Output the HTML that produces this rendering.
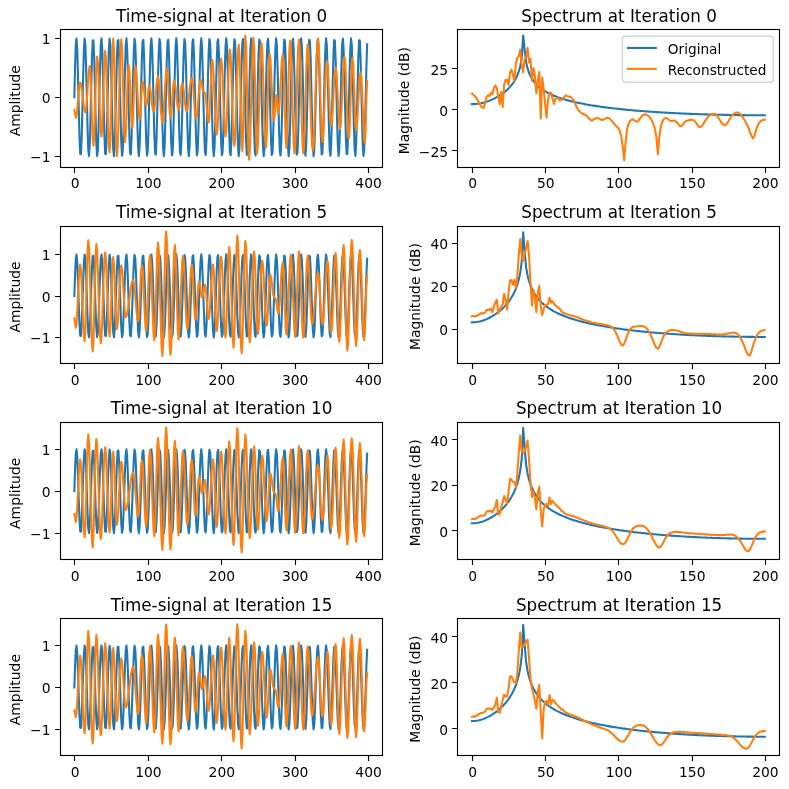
<!DOCTYPE html>
<html lang="en"><head><meta charset="utf-8"><title>Griffin-Lim reconstruction</title>
<style>html,body{margin:0;padding:0;background:#fff}svg{display:block}</style></head>
<body>
<svg width="789" height="789" viewBox="0 0 789 789">
<rect width="789" height="789" fill="#fff"/>
<clipPath id="c00"><rect x="59.7" y="29.3" width="322.1" height="137.25"/></clipPath>
<g clip-path="url(#c00)">
<polyline points="74.34,97.2 75.07,66.16 75.81,44.41 76.54,38.44 77.28,50.05 78.01,75.76 78.74,107.88 79.48,136.81 80.21,153.89 80.95,154.01 81.68,137.15 82.41,108.33 83.15,76.19 83.88,50.33 84.62,38.49 85.35,44.21 86.08,65.77 86.82,96.74 87.55,127.85 88.28,149.78 89.02,156 89.75,144.62 90.49,119.07 91.22,86.97 91.95,57.93 92.69,40.64 93.42,40.26 94.16,56.92 94.89,85.62 95.62,117.78 96.36,143.79 97.09,155.87 97.83,150.39 98.56,129.01 99.29,98.12 100.03,66.95 100.76,44.83 101.49,38.37 102.23,49.51 102.96,74.91 103.7,106.98 104.43,136.12 105.16,153.63 105.9,154.25 106.63,137.82 107.37,109.23 108.1,77.05 108.83,50.89 109.57,38.59 110.3,43.81 111.03,65 111.77,95.82 112.5,127.06 113.24,149.36 113.97,156.06 114.7,145.16 115.44,119.92 116.17,87.87 116.91,58.62 117.64,40.91 118.37,40.03 119.11,56.25 119.84,84.72 120.58,116.92 121.31,143.22 122.04,155.76 122.78,150.78 123.51,129.78 124.24,99.03 124.98,67.74 125.71,45.25 126.45,38.31 127.18,48.97 127.91,74.06 128.65,106.07 129.38,135.43 130.12,153.35 130.85,154.48 131.58,138.48 132.32,110.13 133.05,77.91 133.79,51.47 134.52,38.7 135.25,43.43 135.99,64.24 136.72,94.91 137.45,126.26 138.19,148.93 138.92,156.12 139.66,145.69 140.39,120.76 141.12,88.78 141.86,59.32 142.59,41.19 143.33,39.81 144.06,55.6 144.79,83.82 145.53,116.05 146.26,142.64 147,155.64 147.73,151.16 148.46,130.54 149.2,99.95 149.93,68.54 150.66,45.7 151.4,38.26 152.13,48.45 152.87,73.22 153.6,105.16 154.33,134.73 155.07,153.06 155.8,154.69 156.54,139.13 157.27,111.02 158,78.78 158.74,52.05 159.47,38.82 160.2,43.05 160.94,63.48 161.67,93.99 162.41,125.46 163.14,148.48 163.87,156.16 164.61,146.21 165.34,121.6 166.08,89.69 166.81,60.03 167.54,41.49 168.28,39.6 169.01,54.95 169.75,82.93 170.48,115.18 171.21,142.05 171.95,155.51 172.68,151.53 173.41,131.3 174.15,100.87 174.88,69.34 175.62,46.15 176.35,38.22 177.08,47.94 177.82,72.39 178.55,104.25 179.29,134.01 180.02,152.76 180.75,154.89 181.49,139.77 182.22,111.91 182.96,79.66 183.69,52.65 184.42,38.96 185.16,42.7 185.89,62.73 186.62,93.07 187.36,124.65 188.09,148.02 188.83,156.19 189.56,146.71 190.29,122.43 191.03,90.6 191.76,60.75 192.5,41.79 193.23,39.41 193.96,54.31 194.7,82.04 195.43,114.3 196.17,141.45 196.9,155.36 197.63,151.88 198.37,132.04 199.1,101.78 199.83,70.15 200.57,46.62 201.3,38.21 202.04,47.44 202.77,71.56 203.5,103.34 204.24,133.29 204.97,152.45 205.71,155.08 206.44,140.4 207.17,112.8 207.91,80.53 208.64,53.25 209.37,39.12 210.11,42.35 210.84,61.99 211.58,92.16 212.31,123.84 213.04,147.55 213.78,156.2 214.51,147.21 215.25,123.26 215.98,91.51 216.71,61.47 217.45,42.12 218.18,39.23 218.92,53.69 219.65,81.16 220.38,113.42 221.12,140.84 221.85,155.2 222.58,152.22 223.32,132.78 224.05,102.7 224.79,70.97 225.52,47.09 226.25,38.2 226.99,46.95 227.72,70.73 228.46,102.43 229.19,132.56 229.92,152.12 230.66,155.25 231.39,141.02 232.13,113.68 232.86,81.42 233.59,53.87 234.33,39.29 235.06,42.02 235.79,61.26 236.53,91.25 237.26,123.01 238,147.06 238.73,156.2 239.46,147.69 240.2,124.08 240.93,92.43 241.67,62.21 242.4,42.45 243.13,39.07 243.87,53.08 244.6,80.28 245.33,112.54 246.07,140.22 246.8,155.03 247.54,152.54 248.27,133.5 249,103.61 249.74,71.8 250.47,47.58 251.21,38.21 251.94,46.48 252.67,69.92 253.41,101.51 254.14,131.82 254.88,151.78 255.61,155.41 256.34,141.63 257.08,114.56 257.81,82.3 258.54,54.5 259.28,39.47 260.01,41.7 260.75,60.54 261.48,90.33 262.21,122.19 262.95,146.57 263.68,156.18 264.42,148.16 265.15,124.89 265.88,93.34 266.62,62.95 267.35,42.8 268.09,38.92 268.82,52.47 269.55,79.4 270.29,111.65 271.02,139.58 271.75,154.84 272.49,152.85 273.22,134.22 273.96,104.52 274.69,72.63 275.42,48.09 276.16,38.23 276.89,46.02 277.63,69.11 278.36,100.6 279.09,131.08 279.83,151.42 280.56,155.55 281.3,142.23 282.03,115.44 282.76,83.19 283.5,55.14 284.23,39.66 284.96,41.4 285.7,59.82 286.43,89.42 287.17,121.35 287.9,146.06 288.63,156.15 289.37,148.61 290.1,125.7 290.84,94.26 291.57,63.7 292.3,43.16 293.04,38.78 293.77,51.88 294.5,78.53 295.24,110.76 295.97,138.94 296.71,154.63 297.44,153.15 298.17,134.93 298.91,105.43 299.64,73.47 300.38,48.6 301.11,38.27 301.84,45.57 302.58,68.3 303.31,99.68 304.05,130.32 304.78,151.05 305.51,155.68 306.25,142.81 306.98,116.31 307.71,84.09 308.45,55.79 309.18,39.87 309.92,41.11 310.65,59.12 311.38,88.52 312.12,120.51 312.85,145.54 313.59,156.11 314.32,149.06 315.05,126.5 315.79,95.18 316.52,64.46 317.26,43.54 317.99,38.66 318.72,51.3 319.46,77.66 320.19,109.87 320.92,138.29 321.66,154.42 322.39,153.43 323.13,135.63 323.86,106.34 324.59,74.31 325.33,49.13 326.06,38.32 326.8,45.13 327.53,67.51 328.26,98.77 329,129.56 329.73,150.67 330.47,155.79 331.2,143.39 331.93,117.17 332.67,84.98 333.4,56.45 334.13,40.1 334.87,40.83 335.6,58.42 336.34,87.61 337.07,119.67 337.8,145.01 338.54,156.05 339.27,149.49 340.01,127.29 340.74,96.09 341.47,65.23 342.21,43.92 342.94,38.56 343.67,50.73 344.41,76.8 345.14,108.97 345.88,137.62 346.61,154.19 347.34,153.71 348.08,136.33 348.81,107.24 349.55,75.16 350.28,49.66 351.01,38.39 351.75,44.7 352.48,66.72 353.22,97.85 353.95,128.79 354.68,150.28 355.42,155.89 356.15,143.96 356.88,118.03 357.62,85.88 358.35,57.11 359.09,40.34 359.82,40.56 360.55,57.73 361.29,86.7 362.02,118.82 362.76,144.46 363.49,155.97 364.22,149.91 364.96,128.07 365.69,97.01 366.43,66 367.16,44.32" fill="none" stroke="#1f77b4" stroke-width="2.083" stroke-linejoin="round" stroke-linecap="square"/>
<polyline points="74.34,110 75.07,113.93 75.81,117.85 76.54,115.48 77.28,109 78.01,100.15 78.74,91.3 79.48,84.82 80.21,82.45 80.95,83.93 81.68,88.07 82.41,94.06 83.15,100.7 83.88,106.68 84.62,110.83 85.35,112.3 86.08,109.21 86.82,100.75 87.55,89.21 88.28,77.66 89.02,69.2 89.75,66.11 90.49,73.72 91.22,93.65 91.95,118.28 92.69,138.2 93.42,145.82 94.16,137.29 94.89,114.95 95.62,87.35 96.36,65.02 97.09,56.49 97.83,61.85 98.56,76.49 99.29,96.49 100.03,116.49 100.76,131.13 101.49,136.49 102.23,128.31 102.96,106.9 103.7,80.42 104.43,59.01 105.16,50.83 105.9,57.61 106.63,76.14 107.37,101.45 108.1,126.76 108.83,145.29 109.57,152.07 110.3,141.25 111.03,112.93 111.77,77.93 112.5,49.61 113.24,38.79 113.97,49.99 114.7,79.31 115.44,115.56 116.17,144.88 116.91,156.08 117.64,148.26 118.37,126.91 119.11,97.73 119.84,68.56 120.58,47.2 121.31,39.38 122.04,49.18 122.78,74.85 123.51,106.57 124.24,132.24 124.98,142.04 125.71,134.66 126.45,115.34 127.18,91.45 127.91,72.13 128.65,64.75 129.38,70.78 130.12,86.56 130.85,106.07 131.58,121.85 132.32,127.88 133.05,118.81 133.79,96.91 134.52,75 135.25,65.93 135.99,69.53 136.72,79.35 137.45,92.78 138.19,106.2 138.92,116.02 139.66,119.62 140.39,114.04 141.12,100.56 141.86,87.09 142.59,81.51 143.33,83.82 144.06,89.88 144.79,97.38 145.53,103.44 146.26,105.76 147,102.77 147.73,95.58 148.46,88.38 149.2,85.4 149.93,87.14 150.66,91.89 151.4,98.38 152.13,104.87 152.87,109.62 153.6,111.36 154.33,109.03 155.07,102.66 155.8,93.96 156.54,85.25 157.27,78.88 158,76.55 158.74,79.63 159.47,88.06 160.2,99.56 160.94,111.06 161.67,119.49 162.41,122.57 163.14,118.95 163.87,109.06 164.61,95.55 165.34,82.04 166.08,72.15 166.81,68.53 167.54,73.24 168.28,85.57 169.01,100.81 169.75,113.14 170.48,117.85 171.21,114.3 171.95,105.01 172.68,93.52 173.41,84.23 174.15,80.68 174.88,82.62 175.62,87.91 176.35,95.14 177.08,102.36 177.82,107.65 178.55,109.59 179.29,107.09 180.02,100.54 180.75,92.44 181.49,85.9 182.22,83.39 182.96,85.27 183.69,90.39 184.42,97.38 185.16,104.37 185.89,109.49 186.62,111.36 187.36,109.69 188.09,105.03 188.83,98.29 189.56,90.8 190.29,84.06 191.03,79.4 191.76,77.73 192.5,80.48 193.23,88 193.96,98.26 194.7,108.53 195.43,116.04 196.17,118.79 196.9,116.17 197.63,109.01 198.37,99.24 199.1,89.46 199.83,82.3 200.57,79.68 201.3,81.47 202.04,85.78 202.77,90.1 203.5,91.89 204.24,92.33 204.97,92.78 205.71,95.62 206.44,103.07 207.17,112.28 207.91,119.72 208.64,122.57 209.37,116.6 210.11,100.96 210.84,81.64 211.58,66 212.31,60.03 213.04,65.03 213.78,78.69 214.51,97.35 215.25,116.01 215.98,129.67 216.71,134.67 217.45,129.59 218.18,115.71 218.92,96.76 219.65,77.8 220.38,63.93 221.12,58.85 221.85,64.05 222.58,78.26 223.32,97.67 224.05,117.08 224.79,131.29 225.52,136.49 226.25,130.66 226.99,114.72 227.72,92.95 228.46,71.18 229.19,55.24 229.92,49.41 230.66,55.87 231.39,73.51 232.13,97.61 232.86,121.71 233.59,139.36 234.33,145.82 235.06,139.05 235.79,120.56 236.53,95.31 237.26,70.06 238,51.57 238.73,44.81 239.46,54.99 240.2,81.64 240.93,114.59 241.67,141.24 242.4,151.42 243.13,134.44 243.87,93.45 244.6,52.46 245.33,35.49 246.07,47.35 246.8,78.41 247.54,116.81 248.27,147.87 249,159.74 249.74,151.57 250.47,129.24 251.21,98.73 251.94,68.23 252.67,45.9 253.41,37.73 254.14,48.76 254.88,77.64 255.61,113.34 256.34,142.22 257.08,153.25 257.81,145.89 258.54,125.77 259.28,98.29 260.01,70.81 260.75,50.7 261.48,43.33 262.21,50.32 262.95,69.43 263.68,95.52 264.42,121.61 265.15,140.71 265.88,147.7 266.62,138.72 267.35,115.19 268.09,86.11 268.82,62.59 269.55,53.6 270.29,58.09 271.02,70.37 271.75,87.14 272.49,103.91 273.22,116.19 273.96,120.68 274.69,114.3 275.42,101.52 276.16,95.14 276.89,99.78 277.63,109.07 278.36,113.72 279.09,109.77 279.83,98.97 280.56,84.22 281.3,69.47 282.03,58.67 282.76,54.72 283.5,63.6 284.23,86.85 284.96,115.58 285.7,138.82 286.43,147.7 287.17,137.47 287.9,110.69 288.63,77.58 289.37,50.79 290.1,40.56 290.84,48.11 291.57,68.73 292.3,96.91 293.04,125.08 293.77,145.7 294.5,153.25 295.24,145.64 295.97,124.84 296.71,96.43 297.44,68.02 298.17,47.23 298.91,39.62 299.64,47.22 300.38,67.98 301.11,96.34 301.84,124.71 302.58,145.47 303.31,153.07 304.05,145.79 304.78,125.87 305.51,98.68 306.25,71.48 306.98,51.56 307.71,44.28 308.45,49.54 309.18,64.27 309.92,85.56 310.65,109.19 311.38,130.48 312.12,145.22 312.85,150.48 313.59,144.97 314.32,129.53 315.05,107.22 315.79,82.46 316.52,60.15 317.26,44.71 317.99,39.2 318.72,46.09 319.46,64.91 320.19,90.62 320.92,116.33 321.66,135.15 322.39,142.04 323.13,136.61 323.86,121.79 324.59,101.54 325.33,81.28 326.06,66.46 326.8,61.03 327.53,65.34 328.26,77.1 329,93.16 329.73,109.22 330.47,120.98 331.2,125.28 331.93,121.43 332.67,110.89 333.4,96.49 334.13,82.1 334.87,71.56 335.6,67.7 336.34,71.81 337.07,83.04 337.8,98.38 338.54,113.72 339.27,124.95 340.01,129.06 340.74,124.2 341.47,110.92 342.21,92.78 342.94,74.63 343.67,61.35 344.41,56.49 345.14,61.98 345.88,76.99 346.61,97.49 347.34,118 348.08,133.01 348.81,138.5 349.55,130.8 350.28,110.66 351.01,85.75 351.75,65.6 352.48,57.91 353.22,64.79 353.95,82.82 354.68,105.09 355.42,123.12 356.15,130 356.88,126.13 357.62,115.55 358.35,101.09 359.09,86.64 359.82,76.06 360.55,72.18 361.29,76.98 362.02,90.09 362.76,108 363.49,125.9 364.22,139.01 364.96,143.81 365.69,128.03 366.43,96.46 367.16,80.68" fill="none" stroke="#ff7f0e" stroke-width="2.083" stroke-linejoin="round" stroke-linecap="square"/>
</g>
<path d="M74.5 167.5v5.4M148.5 167.5v5.4M221.5 167.5v5.4M295.5 167.5v5.4M368.5 167.5v5.4M60.5 156.5h-5.4M60.5 97.5h-5.4M60.5 38.5h-5.4" stroke="#000" stroke-width="1.111" fill="none"/>
<rect x="60.5" y="29.5" width="322" height="138" fill="none" stroke="#000" stroke-width="1.111" stroke-linejoin="miter"/>
<clipPath id="c01"><rect x="457.3" y="29.3" width="322.1" height="137.25"/></clipPath>
<g clip-path="url(#c01)">
<polyline points="471.94,104.14 473.41,104.11 474.87,104.04 476.33,103.91 477.8,103.73 479.26,103.51 480.73,103.23 482.19,102.91 483.65,102.54 485.12,102.13 486.58,101.67 488.05,101.16 489.51,100.61 490.97,100.01 492.44,99.37 493.9,98.68 495.37,97.95 496.83,97.16 498.29,96.32 499.76,95.42 501.22,94.46 502.69,93.43 504.15,92.33 505.62,91.14 507.08,89.85 508.54,88.44 510.01,86.9 511.47,85.18 512.94,83.26 514.4,81.06 515.86,78.49 517.33,75.39 518.79,71.49 520.26,66.19 521.72,57.8 523.18,35.44 524.65,49.87 526.11,62.01 527.58,68.4 529.04,72.75 530.5,76.04 531.97,78.67 533.43,80.87 534.9,82.75 536.36,84.4 537.83,85.85 539.29,87.16 540.75,88.34 542.22,89.42 543.68,90.41 545.15,91.32 546.61,92.17 548.07,92.97 549.54,93.71 551,94.41 552.47,95.07 553.93,95.7 555.39,96.29 556.86,96.85 558.32,97.39 559.79,97.9 561.25,98.38 562.71,98.85 564.18,99.3 565.64,99.73 567.11,100.14 568.57,100.54 570.03,100.93 571.5,101.3 572.96,101.65 574.43,102 575.89,102.33 577.36,102.66 578.82,102.97 580.28,103.27 581.75,103.57 583.21,103.85 584.68,104.13 586.14,104.4 587.6,104.66 589.07,104.92 590.53,105.17 592,105.41 593.46,105.65 594.92,105.88 596.39,106.1 597.85,106.32 599.32,106.53 600.78,106.74 602.25,106.95 603.71,107.15 605.17,107.34 606.64,107.53 608.1,107.72 609.57,107.9 611.03,108.08 612.49,108.25 613.96,108.42 615.42,108.59 616.89,108.75 618.35,108.91 619.81,109.07 621.28,109.22 622.74,109.37 624.21,109.52 625.67,109.66 627.13,109.8 628.6,109.94 630.06,110.07 631.53,110.21 632.99,110.34 634.46,110.46 635.92,110.59 637.38,110.71 638.85,110.83 640.31,110.95 641.78,111.07 643.24,111.18 644.7,111.29 646.17,111.4 647.63,111.51 649.1,111.61 650.56,111.72 652.02,111.82 653.49,111.92 654.95,112.01 656.42,112.11 657.88,112.2 659.34,112.29 660.81,112.38 662.27,112.47 663.74,112.56 665.2,112.64 666.66,112.73 668.13,112.81 669.59,112.89 671.06,112.96 672.52,113.04 673.99,113.12 675.45,113.19 676.91,113.26 678.38,113.33 679.84,113.4 681.31,113.47 682.77,113.53 684.23,113.6 685.7,113.66 687.16,113.72 688.63,113.78 690.09,113.84 691.55,113.9 693.02,113.96 694.48,114.01 695.95,114.06 697.41,114.12 698.88,114.17 700.34,114.22 701.8,114.27 703.27,114.31 704.73,114.36 706.2,114.4 707.66,114.45 709.12,114.49 710.59,114.53 712.05,114.57 713.52,114.61 714.98,114.65 716.44,114.68 717.91,114.72 719.37,114.75 720.84,114.79 722.3,114.82 723.76,114.85 725.23,114.88 726.69,114.91 728.16,114.93 729.62,114.96 731.09,114.98 732.55,115.01 734.01,115.03 735.48,115.05 736.94,115.07 738.41,115.09 739.87,115.11 741.33,115.13 742.8,115.15 744.26,115.16 745.73,115.18 747.19,115.19 748.65,115.2 750.12,115.21 751.58,115.22 753.05,115.23 754.51,115.24 755.97,115.25 757.44,115.25 758.9,115.26 760.37,115.26 761.83,115.26 763.3,115.26 764.76,115.26" fill="none" stroke="#1f77b4" stroke-width="2.083" stroke-linejoin="round" stroke-linecap="square"/>
<polyline points="471.94,93.62 473.41,94.77 474.87,96.24 476.33,98.05 477.8,100.51 479.26,103.13 480.73,105.76 482.19,107.56 483.65,107.95 485.12,102.64 486.58,97.06 488.05,95.1 489.51,96.08 490.97,92.8 492.44,94.44 493.9,88.04 495.37,85.42 496.83,88.04 498.29,96.57 499.76,104.28 501.22,91.98 502.69,107.23 504.15,84.44 505.62,79.84 507.08,79.84 508.54,84.93 510.01,72.3 511.47,69.68 512.94,75.25 514.4,80.83 515.86,63.12 517.33,57.87 518.79,56.06 520.26,49.67 521.72,65.08 523.18,72.3 524.65,58.85 526.11,57.54 527.58,47.7 529.04,62.46 530.5,58.85 531.97,80.66 533.43,68.04 534.9,76.4 536.36,93.46 537.83,80.17 539.29,71.97 540.75,118.55 542.22,77.55 543.68,89.19 545.15,104.44 546.61,117.73 548.07,99.36 549.54,92.8 551,92.8 552.47,98.38 553.93,103.95 555.39,98.87 556.86,98.38 558.32,98.05 559.79,100.51 561.25,100.34 562.71,98.87 564.18,96.74 565.64,95.42 567.11,96.08 568.57,96.41 570.03,96.74 571.5,97.56 572.96,99.36 574.43,102.15 575.89,105.43 577.36,108.45 578.82,110.51 580.28,111.99 581.75,113.3 583.21,113.96 584.68,114.78 586.14,115.27 587.6,117.07 589.07,118.55 590.53,119.86 592,120.68 593.46,119.53 594.92,118.71 596.39,118.22 597.85,118.06 599.32,118.63 600.78,119.53 602.25,119.86 603.71,119.53 605.17,118.63 606.64,117.89 608.1,117.89 609.57,118.38 611.03,119.94 612.49,121.66 613.96,123.39 615.42,125.27 616.89,126.75 618.35,128.22 619.81,130.85 621.28,136.42 622.74,146.51 624.21,160.2 625.67,141.51 627.13,129.21 628.6,123.71 630.06,121.01 631.53,119.7 632.99,119.37 634.46,120.35 635.92,121.5 637.38,121.66 638.85,120.19 640.31,118.06 641.78,116.09 643.24,114.94 644.7,114.37 646.17,114.61 647.63,115.27 649.1,116.58 650.56,118.38 652.02,121.01 653.49,124.45 654.95,129.21 656.42,137.41 657.88,154.14 659.34,136.42 660.81,126.75 662.27,121.66 663.74,119.2 665.2,118.06 666.66,118.06 668.13,119.2 669.59,120.35 671.06,121.17 672.52,120.84 673.99,120.52 675.45,121.17 676.91,122.4 678.38,124.12 679.84,126.09 681.31,126.26 682.77,124.78 684.23,122.65 685.7,121.34 687.16,120.68 688.63,120.19 690.09,119.86 691.55,119.7 693.02,119.94 694.48,121.01 695.95,122.65 697.41,125.03 698.88,126.75 700.34,127.24 701.8,126.26 703.27,123.96 704.73,121.66 706.2,119.37 707.66,117.32 709.12,115.76 710.59,114.78 712.05,114.12 713.52,113.87 714.98,114.12 716.44,115.1 717.91,116.74 719.37,119.2 720.84,121.66 722.3,123.71 723.76,125.03 725.23,125.27 726.69,123.96 728.16,121.66 729.62,119.2 731.09,116.58 732.55,114.94 734.01,113.56 735.48,112.81 736.94,112.48 738.41,112.81 739.87,113.87 741.33,115.27 742.8,117.32 744.26,119.7 745.73,122.16 747.19,125.03 748.65,128.22 750.12,132.32 751.58,135.93 753.05,138.39 754.51,135.44 755.97,130.36 757.44,126.26 758.9,123.14 760.37,121.34 761.83,120.35 763.3,119.86 764.76,119.7" fill="none" stroke="#ff7f0e" stroke-width="2.083" stroke-linejoin="round" stroke-linecap="square"/>
</g>
<path d="M472.5 167.5v5.4M545.5 167.5v5.4M618.5 167.5v5.4M692.5 167.5v5.4M765.5 167.5v5.4M457.5 150.5h-5.4M457.5 109.5h-5.4M457.5 68.5h-5.4" stroke="#000" stroke-width="1.111" fill="none"/>
<rect x="457.5" y="29.5" width="322" height="138" fill="none" stroke="#000" stroke-width="1.111" stroke-linejoin="miter"/>
<clipPath id="c10"><rect x="59.7" y="225.6" width="322.1" height="137.25"/></clipPath>
<g clip-path="url(#c10)">
<polyline points="74.34,295.9 75.07,274.07 75.81,258.77 76.54,254.57 77.28,262.74 78.01,280.82 78.74,303.41 79.48,323.76 80.21,335.77 80.95,335.86 81.68,324 82.41,303.73 83.15,281.12 83.88,262.93 84.62,254.6 85.35,258.62 86.08,273.8 86.82,295.58 87.55,317.46 88.28,332.89 89.02,337.26 89.75,329.26 90.49,311.28 91.22,288.7 91.95,268.28 92.69,256.12 93.42,255.85 94.16,267.57 94.89,287.75 95.62,310.38 96.36,328.67 97.09,337.16 97.83,333.32 98.56,318.28 99.29,296.55 100.03,274.62 100.76,259.06 101.49,254.52 102.23,262.35 102.96,280.22 103.7,302.78 104.43,323.28 105.16,335.59 105.9,336.03 106.63,324.47 107.37,304.36 108.1,281.73 108.83,263.33 109.57,254.67 110.3,258.35 111.03,273.25 111.77,294.93 112.5,316.9 113.24,332.59 113.97,337.3 114.7,329.64 115.44,311.88 116.17,289.34 116.91,268.76 117.64,256.31 118.37,255.69 119.11,267.1 119.84,287.12 120.58,309.77 121.31,328.27 122.04,337.09 122.78,333.59 123.51,318.82 124.24,297.19 124.98,275.18 125.71,259.36 126.45,254.47 127.18,261.98 127.91,279.63 128.65,302.14 129.38,322.79 130.12,335.4 130.85,336.19 131.58,324.93 132.32,304.99 133.05,282.33 133.79,263.73 134.52,254.75 135.25,258.08 135.99,272.71 136.72,294.29 137.45,316.34 138.19,332.28 138.92,337.34 139.66,330.01 140.39,312.47 141.12,289.98 141.86,269.26 142.59,256.5 143.33,255.53 144.06,266.64 144.79,286.49 145.53,309.16 146.26,327.86 147,337.01 147.73,333.86 148.46,319.35 149.2,297.84 149.93,275.74 150.66,259.67 151.4,254.44 152.13,261.61 152.87,279.03 153.6,301.5 154.33,322.3 155.07,335.19 155.8,336.34 156.54,325.39 157.27,305.62 158,282.95 158.74,264.14 159.47,254.84 160.2,257.81 160.94,272.18 161.67,293.64 162.41,315.78 163.14,331.97 163.87,337.37 164.61,330.37 165.34,313.06 166.08,290.62 166.81,269.75 167.54,256.71 168.28,255.39 169.01,266.18 169.75,285.86 170.48,308.55 171.21,327.45 171.95,336.91 172.68,334.11 173.41,319.88 174.15,298.48 174.88,276.31 175.62,259.99 176.35,254.42 177.08,261.25 177.82,278.45 178.55,300.86 179.29,321.79 180.02,334.98 180.75,336.48 181.49,325.84 182.22,306.25 182.96,283.56 183.69,264.56 184.42,254.94 185.16,257.56 185.89,271.65 186.62,293 187.36,315.21 188.09,331.65 188.83,337.39 189.56,330.73 190.29,313.65 191.03,291.26 191.76,270.26 192.5,256.93 193.23,255.25 193.96,265.73 194.7,285.24 195.43,307.93 196.17,327.03 196.9,336.81 197.63,334.36 198.37,320.41 199.1,299.12 199.83,276.88 200.57,260.32 201.3,254.4 202.04,260.9 202.77,277.86 203.5,300.22 204.24,321.29 204.97,334.76 205.71,336.61 206.44,326.29 207.17,306.87 207.91,284.18 208.64,264.99 209.37,255.05 210.11,257.32 210.84,271.13 211.58,292.35 212.31,314.64 213.04,331.31 213.78,337.4 214.51,331.07 215.25,314.23 215.98,291.9 216.71,270.77 217.45,257.15 218.18,255.13 218.92,265.3 219.65,284.62 220.38,307.31 221.12,326.59 221.85,336.7 222.58,334.6 223.32,320.92 224.05,299.77 224.79,277.45 225.52,260.66 226.25,254.4 226.99,260.56 227.72,277.28 228.46,299.58 229.19,320.77 229.92,334.53 230.66,336.73 231.39,326.72 232.13,307.49 232.86,284.8 233.59,265.42 234.33,255.16 235.06,257.09 235.79,270.62 236.53,291.71 237.26,314.06 238,330.97 238.73,337.4 239.46,331.41 240.2,314.8 240.93,292.54 241.67,271.29 242.4,257.39 243.13,255.01 243.87,264.86 244.6,284 245.33,306.69 246.07,326.16 246.8,336.57 247.54,334.83 248.27,321.44 249,300.41 249.74,278.03 250.47,261 251.21,254.41 251.94,260.22 252.67,276.71 253.41,298.94 254.14,320.25 254.88,334.29 255.61,336.84 256.34,327.15 257.08,308.11 257.81,285.42 258.54,265.87 259.28,255.29 260.01,256.86 260.75,270.11 261.48,291.07 262.21,313.48 262.95,330.62 263.68,337.39 264.42,331.74 265.15,315.38 265.88,293.19 266.62,271.81 267.35,257.64 268.09,254.91 268.82,264.44 269.55,283.38 270.29,306.07 271.02,325.71 271.75,336.44 272.49,335.04 273.22,321.94 273.96,301.05 274.69,278.62 275.42,261.35 276.16,254.42 276.89,259.9 277.63,276.14 278.36,298.29 279.09,319.73 279.83,334.04 280.56,336.94 281.3,327.57 282.03,308.73 282.76,286.05 283.5,266.31 284.23,255.43 284.96,256.65 285.7,269.61 286.43,290.43 287.17,312.89 287.9,330.27 288.63,337.36 289.37,332.06 290.1,315.94 290.84,293.83 291.57,272.34 292.3,257.89 293.04,254.81 293.77,264.02 294.5,282.77 295.24,305.44 295.97,325.26 296.71,336.3 297.44,335.25 298.17,322.44 298.91,301.69 299.64,279.21 300.38,261.72 301.11,254.45 301.84,259.58 302.58,275.57 303.31,297.65 304.05,319.2 304.78,333.78 305.51,337.03 306.25,327.98 306.98,309.34 307.71,286.68 308.45,266.77 309.18,255.58 309.92,256.44 310.65,269.11 311.38,289.79 312.12,312.3 312.85,329.9 313.59,337.33 314.32,332.37 315.05,316.51 315.79,294.48 316.52,272.87 317.26,258.15 317.99,254.73 318.72,263.61 319.46,282.16 320.19,304.81 320.92,324.8 321.66,336.15 322.39,335.45 323.13,322.93 323.86,302.33 324.59,279.8 325.33,262.09 326.06,254.49 326.8,259.27 327.53,275.01 328.26,297 329,318.66 329.73,333.51 330.47,337.11 331.2,328.39 331.93,309.95 332.67,287.31 333.4,267.23 334.13,255.73 334.87,256.25 335.6,268.62 336.34,289.15 337.07,311.7 337.8,329.53 338.54,337.29 339.27,332.68 340.01,317.06 340.74,295.12 341.47,273.41 342.21,258.43 342.94,254.65 343.67,263.21 344.41,281.55 345.14,304.18 345.88,324.33 346.61,335.98 347.34,335.65 348.08,323.42 348.81,302.96 349.55,280.4 350.28,262.46 351.01,254.53 351.75,258.97 352.48,274.46 353.22,296.36 353.95,318.12 354.68,333.23 355.42,337.18 356.15,328.79 356.88,310.55 357.62,287.94 358.35,267.7 359.09,255.9 359.82,256.06 360.55,268.14 361.29,288.52 362.02,311.1 362.76,329.14 363.49,337.24 364.22,332.97 364.96,317.62 365.69,295.77 366.43,273.96 367.16,258.71" fill="none" stroke="#1f77b4" stroke-width="2.083" stroke-linejoin="round" stroke-linecap="square"/>
<polyline points="74.34,318.48 75.07,323.1 75.81,327.73 76.54,323.49 77.28,311.91 78.01,296.09 78.74,280.26 79.48,268.68 80.21,264.44 80.95,269.59 81.68,283.64 82.41,302.83 83.15,322.02 83.88,336.08 84.62,341.22 85.35,331.59 86.08,306.39 86.82,275.24 87.55,250.04 88.28,240.41 89.02,247.85 89.75,268.16 90.49,295.9 91.22,323.64 91.95,343.95 92.69,351.39 93.42,341.14 94.16,314.32 94.89,281.17 95.62,254.35 96.36,244.11 97.09,250.74 97.83,268.85 98.56,293.6 99.29,318.34 100.03,336.46 100.76,343.09 101.49,337.01 102.23,320.42 102.96,297.75 103.7,275.08 104.43,258.48 105.16,252.41 105.9,258.05 106.63,273.45 107.37,294.49 108.1,315.53 108.83,330.93 109.57,336.57 110.3,328.98 111.03,309.1 111.77,284.53 112.5,264.65 113.24,257.06 113.97,263.94 114.7,281.95 115.44,304.21 116.17,322.22 116.91,329.1 117.64,324.83 118.37,313.16 119.11,297.23 119.84,281.29 120.58,269.63 121.31,265.36 122.04,268.83 122.78,278.31 123.51,291.27 124.24,304.23 124.98,313.72 125.71,317.19 126.45,316.28 127.18,313.65 127.91,309.56 128.65,304.4 129.38,298.68 130.12,292.96 130.85,287.8 131.58,283.71 132.32,281.08 133.05,280.17 133.79,282.18 134.52,287.82 135.25,295.97 135.99,305.01 136.72,313.15 137.45,318.79 138.19,320.8 138.92,315.51 139.66,301.64 140.39,284.51 141.12,270.65 141.86,265.36 142.59,269.76 143.33,281.78 144.06,298.2 144.79,314.63 145.53,326.65 146.26,331.05 147,323.81 147.73,304.86 148.46,281.43 149.2,262.47 149.93,255.23 150.66,260.93 151.4,276.5 152.13,297.77 152.87,319.04 153.6,334.61 154.33,340.3 155.07,330.98 155.8,306.55 156.54,276.37 157.27,251.94 158,242.61 158.74,250.21 159.47,270.97 160.2,299.32 160.94,327.68 161.67,348.44 162.41,356.03 163.14,344.14 163.87,313.02 164.61,274.55 165.34,243.42 166.08,231.53 166.81,239.79 167.54,262.34 168.28,293.14 169.01,323.94 169.75,346.49 170.48,354.75 171.21,347.4 171.95,327.32 172.68,299.88 173.41,272.45 174.15,252.37 174.88,245.02 175.62,254.03 176.35,277.63 177.08,306.79 177.82,330.38 178.55,339.39 179.29,333.82 180.02,318.58 180.75,297.77 181.49,276.96 182.22,261.72 182.96,256.14 183.69,261.03 184.42,274.38 185.16,292.62 185.89,310.86 186.62,324.21 187.36,329.1 188.09,324.79 188.83,313.03 189.56,296.96 190.29,280.89 191.03,269.12 191.76,264.82 192.5,270.08 193.23,283.87 193.96,300.91 194.7,314.7 195.43,319.97 196.17,316.29 196.9,306.66 197.63,294.76 198.37,285.14 199.1,281.46 199.83,283.85 200.57,289.61 201.3,295.38 202.04,297.77 202.77,295.87 203.5,291.29 204.24,286.72 204.97,284.82 205.71,288.08 206.44,296.63 207.17,307.2 207.91,315.75 208.64,319.02 209.37,315.36 210.11,305.37 210.84,291.73 211.58,278.09 212.31,268.1 213.04,264.44 213.78,270.8 214.51,287.46 215.25,308.04 215.98,324.69 216.71,331.05 217.45,326.07 218.18,312.46 218.92,293.87 219.65,275.27 220.38,261.66 221.12,256.68 221.85,262.1 222.58,276.89 223.32,297.1 224.05,317.31 224.79,332.11 225.52,337.52 226.25,328.87 226.99,306.22 227.72,278.23 228.46,255.58 229.19,246.93 229.92,253.68 230.66,272.12 231.39,297.31 232.13,322.5 232.86,340.94 233.59,347.69 234.33,337 235.06,309.02 235.79,274.44 236.53,246.45 237.26,235.77 238,243.64 238.73,265.14 239.46,294.51 240.2,323.88 240.93,345.38 241.67,353.25 242.4,342.53 243.13,314.45 243.87,279.75 244.6,251.68 245.33,240.95 246.07,247.73 246.8,266.26 247.54,291.56 248.27,316.87 249,335.39 249.74,342.17 250.47,336.1 251.21,319.5 251.94,296.83 252.67,274.16 253.41,257.57 254.14,251.49 254.88,259.36 255.61,279.94 256.34,305.38 257.08,325.97 257.81,333.83 258.54,328.94 259.28,315.56 260.01,297.29 260.75,279.02 261.48,265.65 262.21,260.75 262.95,265.09 263.68,276.93 264.42,293.12 265.15,309.3 265.88,321.15 266.62,325.49 267.35,320.63 268.09,307.91 268.82,292.19 269.55,279.47 270.29,274.61 271.02,276.76 271.75,282.4 272.49,289.36 273.22,294.99 273.96,297.14 274.69,297.77 275.42,298.39 276.16,300.6 276.89,305.94 277.63,311.28 278.36,313.5 279.09,310.09 279.83,300.8 280.56,288.1 281.3,275.4 282.03,266.1 282.76,262.7 283.5,269.54 284.23,287.46 284.96,309.61 285.7,327.53 286.43,334.37 287.17,329.04 287.9,314.48 288.63,294.59 289.37,274.7 290.1,260.14 290.84,254.81 291.57,260.32 292.3,275.36 293.04,295.9 293.77,316.44 294.5,331.48 295.24,336.98 295.97,328.82 296.71,307.45 297.44,281.03 298.17,259.66 298.91,251.49 299.64,257.26 300.38,273 301.11,294.51 301.84,316.02 302.58,331.76 303.31,337.52 304.05,332.05 304.78,317.11 305.51,296.69 306.25,276.27 306.98,261.32 307.71,255.85 308.45,260.39 309.18,272.81 309.92,289.76 310.65,306.71 311.38,319.12 312.12,323.66 312.85,321.73 313.59,316.21 314.32,307.96 315.05,298.22 315.79,288.49 316.52,280.24 317.26,274.72 317.99,272.78 318.72,276.25 319.46,285.72 320.19,298.66 320.92,311.6 321.66,321.07 322.39,324.53 323.13,321.38 323.86,312.53 324.59,299.74 325.33,285.55 326.06,272.76 326.8,263.91 327.53,260.75 328.26,267.63 329,285.65 329.73,307.93 330.47,325.95 331.2,332.83 331.93,327.49 332.67,312.87 333.4,292.91 334.13,272.95 334.87,258.34 335.6,252.99 336.34,261.47 337.07,283.67 337.8,311.12 338.54,333.32 339.27,341.8 340.01,335.32 340.74,317.6 341.47,293.41 342.21,269.22 342.94,251.5 343.67,245.02 344.41,255.09 345.14,281.45 345.88,314.04 346.61,340.4 347.34,350.47 348.08,343.07 348.81,322.86 349.55,295.26 350.28,267.65 351.01,247.44 351.75,240.04 352.48,247.13 353.22,266.5 353.95,292.95 354.68,319.41 355.42,338.78 356.15,345.87 356.88,336.71 357.62,312.75 358.35,283.12 359.09,259.16 359.82,250 360.55,256.05 361.29,272.58 362.02,295.15 362.76,317.73 363.49,334.26 364.22,340.3 364.96,330.82 365.69,307.94 366.43,285.05 367.16,275.56" fill="none" stroke="#ff7f0e" stroke-width="2.083" stroke-linejoin="round" stroke-linecap="square"/>
</g>
<path d="M74.5 363.5v5.4M148.5 363.5v5.4M221.5 363.5v5.4M295.5 363.5v5.4M368.5 363.5v5.4M60.5 337.5h-5.4M60.5 296.5h-5.4M60.5 254.5h-5.4" stroke="#000" stroke-width="1.111" fill="none"/>
<rect x="60.5" y="226.5" width="322" height="137" fill="none" stroke="#000" stroke-width="1.111" stroke-linejoin="miter"/>
<clipPath id="c11"><rect x="457.3" y="225.6" width="322.1" height="137.25"/></clipPath>
<g clip-path="url(#c11)">
<polyline points="471.94,322.37 473.41,322.33 474.87,322.23 476.33,322.07 477.8,321.83 479.26,321.54 480.73,321.18 482.19,320.76 483.65,320.27 485.12,319.73 486.58,319.12 488.05,318.46 489.51,317.74 490.97,316.96 492.44,316.11 493.9,315.21 495.37,314.25 496.83,313.21 498.29,312.11 499.76,310.93 501.22,309.68 502.69,308.33 504.15,306.88 505.62,305.32 507.08,303.63 508.54,301.79 510.01,299.76 511.47,297.51 512.94,294.99 514.4,292.1 515.86,288.73 517.33,284.68 518.79,279.57 520.26,272.61 521.72,261.61 523.18,232.3 524.65,251.23 526.11,267.14 527.58,275.52 529.04,281.21 530.5,285.52 531.97,288.98 533.43,291.86 534.9,294.33 536.36,296.48 537.83,298.39 539.29,300.1 540.75,301.65 542.22,303.06 543.68,304.36 545.15,305.56 546.61,306.68 548.07,307.72 549.54,308.7 551,309.61 552.47,310.48 553.93,311.3 555.39,312.07 556.86,312.81 558.32,313.51 559.79,314.18 561.25,314.82 562.71,315.43 564.18,316.02 565.64,316.59 567.11,317.13 568.57,317.65 570.03,318.15 571.5,318.64 572.96,319.11 574.43,319.56 575.89,320 577.36,320.42 578.82,320.83 580.28,321.23 581.75,321.62 583.21,321.99 584.68,322.35 586.14,322.71 587.6,323.05 589.07,323.39 590.53,323.71 592,324.03 593.46,324.34 594.92,324.64 596.39,324.94 597.85,325.22 599.32,325.51 600.78,325.78 602.25,326.05 603.71,326.31 605.17,326.56 606.64,326.81 608.1,327.05 609.57,327.29 611.03,327.53 612.49,327.75 613.96,327.98 615.42,328.2 616.89,328.41 618.35,328.62 619.81,328.82 621.28,329.02 622.74,329.22 624.21,329.41 625.67,329.6 627.13,329.79 628.6,329.97 630.06,330.15 631.53,330.32 632.99,330.49 634.46,330.66 635.92,330.82 637.38,330.98 638.85,331.14 640.31,331.3 641.78,331.45 643.24,331.6 644.7,331.74 646.17,331.89 647.63,332.03 649.1,332.16 650.56,332.3 652.02,332.43 653.49,332.56 654.95,332.69 656.42,332.81 657.88,332.94 659.34,333.06 660.81,333.17 662.27,333.29 663.74,333.4 665.2,333.51 666.66,333.62 668.13,333.73 669.59,333.83 671.06,333.94 672.52,334.04 673.99,334.13 675.45,334.23 676.91,334.32 678.38,334.42 679.84,334.51 681.31,334.59 682.77,334.68 684.23,334.77 685.7,334.85 687.16,334.93 688.63,335.01 690.09,335.09 691.55,335.16 693.02,335.23 694.48,335.31 695.95,335.38 697.41,335.45 698.88,335.51 700.34,335.58 701.8,335.64 703.27,335.7 704.73,335.76 706.2,335.82 707.66,335.88 709.12,335.94 710.59,335.99 712.05,336.04 713.52,336.09 714.98,336.14 716.44,336.19 717.91,336.24 719.37,336.28 720.84,336.32 722.3,336.36 723.76,336.4 725.23,336.44 726.69,336.48 728.16,336.52 729.62,336.55 731.09,336.58 732.55,336.62 734.01,336.65 735.48,336.67 736.94,336.7 738.41,336.73 739.87,336.75 741.33,336.77 742.8,336.8 744.26,336.82 745.73,336.83 747.19,336.85 748.65,336.87 750.12,336.88 751.58,336.89 753.05,336.91 754.51,336.92 755.97,336.93 757.44,336.93 758.9,336.94 760.37,336.94 761.83,336.95 763.3,336.95 764.76,336.95" fill="none" stroke="#1f77b4" stroke-width="2.083" stroke-linejoin="round" stroke-linecap="square"/>
<polyline points="471.94,316.31 473.41,315.95 474.87,316.53 476.33,315.95 477.8,315.24 479.26,314.38 480.73,313.09 482.19,313.74 483.65,313.09 485.12,312.44 486.58,310.08 488.05,309.65 489.51,309.87 490.97,308.57 492.44,312.23 493.9,306.43 495.37,302.56 496.83,299.76 498.29,313.41 499.76,310.3 501.22,306.43 502.69,304.49 504.15,293.74 505.62,300.19 507.08,309.65 508.54,292.45 510.01,280.41 511.47,279.98 512.94,284.93 514.4,279.76 515.86,287.5 517.33,276.11 518.79,254.39 520.26,238.92 521.72,255.69 523.18,260.85 524.65,253.11 526.11,248.81 527.58,241.06 529.04,255.69 530.5,282.77 531.97,305.78 533.43,289.87 534.9,297.61 536.36,312.12 537.83,292.45 539.29,285.78 540.75,306.43 542.22,315.02 543.68,309.44 545.15,304.81 546.61,305.35 548.07,303.85 549.54,297.72 551,302.56 552.47,301.05 553.93,303.85 555.39,305.35 556.86,306.64 558.32,307.61 559.79,308.79 561.25,311.15 562.71,312.44 564.18,313.31 565.64,313.74 567.11,314.17 568.57,314.7 570.03,315.24 571.5,315.88 572.96,315.67 574.43,316.31 575.89,316.75 577.36,317.18 578.82,317.82 580.28,318.46 581.75,319.06 583.21,319.65 584.68,320.13 586.14,320.62 587.6,321.05 589.07,321.48 590.53,321.96 592,322.44 593.46,322.75 594.92,323.07 596.39,323.39 597.85,323.71 599.32,323.88 600.78,324.06 602.25,324.27 603.71,324.49 605.17,324.81 606.64,325.13 608.1,325.56 609.57,325.99 611.03,326.63 612.49,327.71 613.96,329.43 615.42,331.8 616.89,334.81 618.35,338.46 619.81,341.9 621.28,344.69 622.74,345.56 624.21,343.73 625.67,339.96 627.13,335.45 628.6,331.69 630.06,329.15 631.53,327.93 632.99,327 634.46,326.63 635.92,326.42 637.38,326.2 638.85,326.12 640.31,325.99 641.78,325.99 643.24,326.2 644.7,326.85 646.17,327.93 647.63,329.54 649.1,331.69 650.56,334.59 652.02,338.03 653.49,341.84 654.95,345.34 656.42,347.92 657.88,348.78 659.34,346.85 660.81,343.1 662.27,339.32 663.74,336.1 665.2,333.51 666.66,331.95 668.13,331.06 669.59,330.42 671.06,330.16 672.52,330.03 673.99,330.03 675.45,330.16 676.91,330.42 678.38,330.94 679.84,331.43 681.31,331.95 682.77,332.44 684.23,332.96 685.7,333.21 687.16,333.33 688.63,333.45 690.09,333.51 691.55,333.58 693.02,333.65 694.48,333.73 695.95,333.73 697.41,333.73 698.88,333.73 700.34,333.77 701.8,333.82 703.27,333.86 704.73,333.9 706.2,333.94 707.66,334 709.12,334.06 710.59,334.11 712.05,334.17 713.52,334.22 714.98,334.31 716.44,334.4 717.91,334.48 719.37,334.48 720.84,334.48 722.3,334.35 723.76,334.22 725.23,333.98 726.69,333.73 728.16,333.47 729.62,333.21 731.09,332.93 732.55,332.65 734.01,332.65 735.48,332.96 736.94,333.58 738.41,334.81 739.87,336.74 741.33,339.32 742.8,342.46 744.26,346.2 745.73,350.07 747.19,353.3 748.65,355.44 750.12,355.23 751.58,350.71 753.05,345.56 754.51,341.25 755.97,337.38 757.44,334.48 758.9,332.65 760.37,331.43 761.83,330.68 763.3,330.29 764.76,330.16" fill="none" stroke="#ff7f0e" stroke-width="2.083" stroke-linejoin="round" stroke-linecap="square"/>
</g>
<path d="M472.5 363.5v5.4M545.5 363.5v5.4M618.5 363.5v5.4M692.5 363.5v5.4M765.5 363.5v5.4M457.5 329.5h-5.4M457.5 286.5h-5.4M457.5 243.5h-5.4" stroke="#000" stroke-width="1.111" fill="none"/>
<rect x="457.5" y="226.5" width="322" height="137" fill="none" stroke="#000" stroke-width="1.111" stroke-linejoin="miter"/>
<clipPath id="c20"><rect x="59.7" y="421.9" width="322.1" height="137.25"/></clipPath>
<g clip-path="url(#c20)">
<polyline points="74.34,491.2 75.07,469.11 75.81,453.62 76.54,449.37 77.28,457.64 78.01,475.94 78.74,498.8 79.48,519.4 80.21,531.55 80.95,531.64 81.68,519.64 82.41,499.13 83.15,476.24 83.88,457.83 84.62,449.4 85.35,453.48 86.08,468.83 86.82,490.87 87.55,513.02 88.28,528.63 89.02,533.05 89.75,524.96 90.49,506.77 91.22,483.92 91.95,463.25 92.69,450.94 93.42,450.67 94.16,462.52 94.89,482.95 95.62,505.85 96.36,524.37 97.09,532.96 97.83,529.07 98.56,513.85 99.29,491.85 100.03,469.66 100.76,453.92 101.49,449.32 102.23,457.25 102.96,475.33 103.7,498.16 104.43,518.91 105.16,531.37 105.9,531.81 106.63,520.11 107.37,499.77 108.1,476.86 108.83,458.24 109.57,449.47 110.3,453.19 111.03,468.28 111.77,490.22 112.5,512.45 113.24,528.33 113.97,533.1 114.7,525.34 115.44,507.37 116.17,484.56 116.91,463.74 117.64,451.13 118.37,450.5 119.11,462.05 119.84,482.32 120.58,505.24 121.31,523.96 122.04,532.89 122.78,529.34 123.51,514.39 124.24,492.51 124.98,470.23 125.71,454.22 126.45,449.28 127.18,456.87 127.91,474.73 128.65,497.52 129.38,518.41 130.12,531.17 130.85,531.98 131.58,520.58 132.32,500.4 133.05,477.47 133.79,458.64 134.52,449.55 135.25,452.92 135.99,467.73 136.72,489.57 137.45,511.89 138.19,528.02 138.92,533.14 139.66,525.72 140.39,507.97 141.12,485.21 141.86,464.24 142.59,451.33 143.33,450.35 144.06,461.58 144.79,481.68 145.53,504.62 146.26,523.55 147,532.8 147.73,529.61 148.46,514.94 149.2,493.16 149.93,470.8 150.66,454.54 151.4,449.24 152.13,456.5 152.87,474.13 153.6,496.87 154.33,517.91 155.07,530.97 155.8,532.13 156.54,521.05 157.27,501.04 158,478.09 158.74,459.06 159.47,449.64 160.2,452.66 160.94,467.2 161.67,488.92 162.41,511.32 163.14,527.7 163.87,533.17 164.61,526.09 165.34,508.57 166.08,485.85 166.81,464.74 167.54,451.54 168.28,450.2 169.01,461.12 169.75,481.04 170.48,504 171.21,523.13 171.95,532.71 172.68,529.87 173.41,515.47 174.15,493.81 174.88,471.37 175.62,454.86 176.35,449.22 177.08,456.13 177.82,473.54 178.55,496.22 179.29,517.41 180.02,530.75 180.75,532.27 181.49,521.5 182.22,501.67 182.96,478.71 183.69,459.48 184.42,449.74 185.16,452.4 185.89,466.66 186.62,488.26 187.36,510.74 188.09,527.38 188.83,533.19 189.56,526.45 190.29,509.16 191.03,486.5 191.76,465.25 192.5,451.76 193.23,450.06 193.96,460.67 194.7,480.41 195.43,503.38 196.17,522.7 196.9,532.6 197.63,530.12 198.37,516 199.1,494.46 199.83,471.95 200.57,455.19 201.3,449.2 202.04,455.78 202.77,472.95 203.5,495.57 204.24,516.89 204.97,530.53 205.71,532.4 206.44,521.95 207.17,502.3 207.91,479.34 208.64,459.92 209.37,449.85 210.11,452.16 210.84,466.14 211.58,487.61 212.31,510.16 213.04,527.04 213.78,533.2 214.51,526.8 215.25,509.75 215.98,487.15 216.71,465.77 217.45,451.99 218.18,449.94 218.92,460.23 219.65,479.78 220.38,502.75 221.12,522.26 221.85,532.49 222.58,530.36 223.32,516.53 224.05,495.11 224.79,472.53 225.52,455.53 226.25,449.2 226.99,455.43 227.72,472.36 228.46,494.92 229.19,516.37 229.92,530.29 230.66,532.52 231.39,522.39 232.13,502.93 232.86,479.96 233.59,460.36 234.33,449.97 235.06,451.92 235.79,465.61 236.53,486.96 237.26,509.58 238,526.7 238.73,533.2 239.46,527.14 240.2,510.33 240.93,487.8 241.67,466.29 242.4,452.23 243.13,449.82 243.87,459.79 244.6,479.15 245.33,502.12 246.07,521.82 246.8,532.36 247.54,530.59 248.27,517.04 249,495.76 249.74,473.12 250.47,455.88 251.21,449.21 251.94,455.09 252.67,471.78 253.41,494.27 254.14,515.85 254.88,530.05 255.61,532.63 256.34,522.83 257.08,503.56 257.81,480.6 258.54,460.8 259.28,450.1 260.01,451.69 260.75,465.1 261.48,486.31 262.21,508.99 262.95,526.34 263.68,533.19 264.42,527.47 265.15,510.91 265.88,488.45 266.62,466.82 267.35,452.47 268.09,449.71 268.82,459.36 269.55,478.53 270.29,501.49 271.02,521.37 271.75,532.23 272.49,530.82 273.22,517.56 273.96,496.41 274.69,473.71 275.42,456.24 276.16,449.22 276.89,454.76 277.63,471.2 278.36,493.62 279.09,515.32 279.83,529.8 280.56,532.74 281.3,523.25 282.03,504.18 282.76,481.23 283.5,461.26 284.23,450.24 284.96,451.48 285.7,464.59 286.43,485.66 287.17,508.39 287.9,525.98 288.63,533.16 289.37,527.8 290.1,511.49 290.84,489.11 291.57,467.35 292.3,452.73 293.04,449.62 293.77,458.94 294.5,477.91 295.24,500.85 295.97,520.91 296.71,532.08 297.44,531.03 298.17,518.06 298.91,497.06 299.64,474.31 300.38,456.6 301.11,449.25 301.84,454.44 302.58,470.63 303.31,492.97 304.05,514.78 304.78,529.54 305.51,532.83 306.25,523.67 306.98,504.8 307.71,481.86 308.45,461.72 309.18,450.39 309.92,451.27 310.65,464.09 311.38,485.02 312.12,507.8 312.85,525.61 313.59,533.13 314.32,528.11 315.05,512.06 315.79,489.76 316.52,467.89 317.26,453 317.99,449.53 318.72,458.52 319.46,477.29 320.19,500.22 320.92,520.45 321.66,531.93 322.39,531.23 323.13,518.56 323.86,497.71 324.59,474.91 325.33,456.98 326.06,449.29 326.8,454.13 327.53,470.06 328.26,492.31 329,514.23 329.73,529.26 330.47,532.91 331.2,524.08 331.93,505.42 332.67,482.5 333.4,462.19 334.13,450.55 334.87,451.07 335.6,463.59 336.34,484.37 337.07,507.19 337.8,525.23 338.54,533.09 339.27,528.42 340.01,512.62 340.74,490.41 341.47,468.44 342.21,453.27 342.94,449.45 343.67,458.12 344.41,476.68 345.14,499.58 345.88,519.98 346.61,531.77 347.34,531.42 348.08,519.05 348.81,498.35 349.55,475.51 350.28,457.36 351.01,449.33 351.75,453.83 352.48,469.5 353.22,491.66 353.95,513.69 354.68,528.98 355.42,532.98 356.15,524.48 356.88,506.03 357.62,483.14 358.35,462.66 359.09,450.72 359.82,450.88 360.55,463.1 361.29,483.73 362.02,506.59 362.76,524.84 363.49,533.04 364.22,528.72 364.96,513.18 365.69,491.06 366.43,468.99 367.16,453.56" fill="none" stroke="#1f77b4" stroke-width="2.083" stroke-linejoin="round" stroke-linecap="square"/>
<polyline points="74.34,514.05 75.07,518.02 75.81,521.99 76.54,517.79 77.28,506.33 78.01,490.68 78.74,475.02 79.48,463.56 80.21,459.36 80.95,464.57 81.68,478.79 82.41,498.21 83.15,517.64 83.88,531.86 84.62,537.06 85.35,527.27 86.08,501.63 86.82,469.93 87.55,444.29 88.28,434.5 89.02,442.06 89.75,462.71 90.49,490.93 91.22,519.14 91.95,539.79 92.69,547.35 93.42,536.99 94.16,509.84 94.89,476.29 95.62,449.15 96.36,438.78 97.09,445.49 97.83,463.83 98.56,488.87 99.29,513.91 100.03,532.24 100.76,538.95 101.49,532.81 102.23,516.01 102.96,493.07 103.7,470.13 104.43,453.33 105.16,447.18 105.9,452.89 106.63,468.48 107.37,489.77 108.1,511.07 108.83,526.65 109.57,532.36 110.3,524.68 111.03,504.56 111.77,479.69 112.5,459.57 113.24,451.89 113.97,458.85 114.7,477.08 115.44,499.61 116.17,517.84 116.91,524.8 117.64,520.59 118.37,509.07 119.11,493.34 119.84,477.61 120.58,466.1 121.31,461.88 122.04,465.11 122.78,473.91 123.51,485.93 124.24,497.95 124.98,506.75 125.71,509.97 126.45,509.06 127.18,506.4 127.91,502.27 128.65,497.06 129.38,491.28 130.12,485.51 130.85,480.3 131.58,476.16 132.32,473.51 133.05,472.59 133.79,474.76 134.52,480.84 135.25,489.62 135.99,499.37 136.72,508.15 137.45,514.23 138.19,516.4 138.92,511.04 139.66,497.01 140.39,479.67 141.12,465.65 141.86,460.29 142.59,464.74 143.33,476.91 144.06,493.53 144.79,510.15 145.53,522.32 146.26,526.77 147,519.45 147.73,500.26 148.46,476.55 149.2,457.37 149.93,450.04 150.66,455.81 151.4,471.56 152.13,493.09 152.87,514.62 153.6,530.37 154.33,536.14 155.07,526.79 155.8,502.3 156.54,472.03 157.27,447.55 158,438.2 158.74,445.67 159.47,466.08 160.2,493.97 160.94,521.86 161.67,542.28 162.41,549.75 163.14,538.09 163.87,507.57 164.61,469.84 165.34,439.31 166.08,427.65 166.81,435.8 167.54,458.04 168.28,488.43 169.01,518.81 169.75,541.06 170.48,549.2 171.21,541.96 171.95,522.19 172.68,495.17 173.41,468.15 174.15,448.38 174.88,441.14 175.62,450.12 176.35,473.64 177.08,502.71 177.82,526.23 178.55,535.22 179.29,529.57 180.02,514.15 180.75,493.09 181.49,472.03 182.22,456.61 182.96,450.96 183.69,455.91 184.42,469.42 185.16,487.88 185.89,506.34 186.62,519.85 187.36,524.8 188.09,520.44 188.83,508.54 189.56,492.27 190.29,476.01 191.03,464.1 191.76,459.74 192.5,465.07 193.23,479.03 193.96,496.28 194.7,510.23 195.43,515.56 196.17,511.84 196.9,502.09 197.63,490.05 198.37,480.31 199.1,476.58 199.83,479 200.57,484.84 201.3,490.67 202.04,493.09 202.77,491.17 203.5,486.54 204.24,481.91 204.97,479.99 205.71,483.29 206.44,491.94 207.17,502.64 207.91,511.29 208.64,514.59 209.37,510.89 210.11,500.79 210.84,486.98 211.58,473.17 212.31,463.06 213.04,459.36 213.78,465.8 214.51,482.65 215.25,503.48 215.98,520.34 216.71,526.77 217.45,521.73 218.18,507.96 218.92,489.14 219.65,470.33 220.38,456.55 221.12,451.51 221.85,456.99 222.58,471.96 223.32,492.42 224.05,512.87 224.79,527.85 225.52,533.33 226.25,524.57 226.99,501.65 227.72,473.32 228.46,450.4 229.19,441.64 229.92,448.55 230.66,467.44 231.39,493.24 232.13,519.04 232.86,537.92 233.59,544.83 234.33,533.7 235.06,504.54 235.79,468.5 236.53,439.34 237.26,428.2 238,436.52 238.73,459.24 239.46,490.28 240.2,521.31 240.93,544.04 241.67,552.35 242.4,541.1 243.13,511.65 243.87,475.24 244.6,445.79 245.33,434.54 246.07,441.47 246.8,460.41 247.54,486.29 248.27,512.16 249,531.1 249.74,538.03 250.47,531.88 251.21,515.09 251.94,492.14 252.67,469.2 253.41,452.41 254.14,446.26 254.88,454.22 255.61,475.05 256.34,500.8 257.08,521.63 257.81,529.59 258.54,524.63 259.28,511.1 260.01,492.61 260.75,474.12 261.48,460.58 262.21,455.63 262.95,460.02 263.68,472.01 264.42,488.39 265.15,504.77 265.88,516.76 266.62,521.15 267.35,516.58 268.09,504.62 268.82,489.84 269.55,477.88 270.29,473.31 271.02,475.14 271.75,479.92 272.49,485.84 273.22,490.63 273.96,492.46 274.69,493.09 275.42,493.72 276.16,496.3 276.89,502.54 277.63,508.78 278.36,511.36 279.09,507.76 279.83,497.92 280.56,484.48 281.3,471.04 282.03,461.2 282.76,457.6 283.5,464.53 284.23,482.66 284.96,505.07 285.7,523.21 286.43,530.13 287.17,524.74 287.9,510.01 288.63,489.88 289.37,469.75 290.1,455.01 290.84,449.62 291.57,455.19 292.3,470.41 293.04,491.2 293.77,511.99 294.5,527.21 295.24,532.78 295.97,524.52 296.71,502.89 297.44,476.15 298.17,454.52 298.91,446.26 299.64,452.09 300.38,468.03 301.11,489.79 301.84,511.56 302.58,527.49 303.31,533.33 304.05,527.79 304.78,512.66 305.51,492 306.25,471.33 306.98,456.21 307.71,450.67 308.45,455.27 309.18,467.83 309.92,484.98 310.65,502.14 311.38,514.7 312.12,519.3 312.85,517.24 313.59,511.37 314.32,502.59 315.05,492.23 315.79,481.87 316.52,473.09 317.26,467.22 317.99,465.16 318.72,468.85 319.46,478.91 320.19,492.67 320.92,506.43 321.66,516.49 322.39,520.18 323.13,516.98 323.86,508.03 324.59,495.09 325.33,480.72 326.06,467.78 326.8,458.82 327.53,455.63 328.26,462.59 329,480.83 329.73,503.38 330.47,521.61 331.2,528.58 331.93,523.17 332.67,508.38 333.4,488.18 334.13,467.97 334.87,453.19 335.6,447.77 336.34,456.35 337.07,478.82 337.8,506.6 338.54,529.07 339.27,537.65 340.01,531.09 340.74,513.17 341.47,488.68 342.21,464.19 342.94,446.27 343.67,439.71 344.41,449.71 345.14,475.88 345.88,508.24 346.61,534.42 347.34,544.41 348.08,537.3 348.81,517.88 349.55,491.35 350.28,464.81 351.01,445.39 351.75,438.28 352.48,445.21 353.22,464.15 353.95,490.02 354.68,515.9 355.42,534.84 356.15,541.77 356.88,532.35 357.62,507.7 358.35,477.22 359.09,452.57 359.82,443.15 360.55,449.38 361.29,466.4 362.02,489.65 362.76,512.89 363.49,529.91 364.22,536.14 364.96,527.16 365.69,505.48 366.43,483.8 367.16,474.82" fill="none" stroke="#ff7f0e" stroke-width="2.083" stroke-linejoin="round" stroke-linecap="square"/>
</g>
<path d="M74.5 559.5v5.4M148.5 559.5v5.4M221.5 559.5v5.4M295.5 559.5v5.4M368.5 559.5v5.4M60.5 533.5h-5.4M60.5 491.5h-5.4M60.5 449.5h-5.4" stroke="#000" stroke-width="1.111" fill="none"/>
<rect x="60.5" y="422.5" width="322" height="137" fill="none" stroke="#000" stroke-width="1.111" stroke-linejoin="miter"/>
<clipPath id="c21"><rect x="457.3" y="421.9" width="322.1" height="137.25"/></clipPath>
<g clip-path="url(#c21)">
<polyline points="471.94,523.36 473.41,523.33 474.87,523.22 476.33,523.05 477.8,522.8 479.26,522.49 480.73,522.11 482.19,521.66 483.65,521.15 485.12,520.57 486.58,519.93 488.05,519.22 489.51,518.46 490.97,517.63 492.44,516.74 493.9,515.78 495.37,514.75 496.83,513.66 498.29,512.49 499.76,511.24 501.22,509.91 502.69,508.48 504.15,506.94 505.62,505.29 507.08,503.5 508.54,501.54 510.01,499.39 511.47,497.01 512.94,494.33 514.4,491.27 515.86,487.7 517.33,483.4 518.79,477.98 520.26,470.6 521.72,458.94 523.18,427.85 524.65,447.92 526.11,464.8 527.58,473.68 529.04,479.73 530.5,484.29 531.97,487.96 533.43,491.02 534.9,493.63 536.36,495.92 537.83,497.94 539.29,499.75 540.75,501.4 542.22,502.89 543.68,504.27 545.15,505.55 546.61,506.73 548.07,507.83 549.54,508.87 551,509.84 552.47,510.76 553.93,511.63 555.39,512.45 556.86,513.23 558.32,513.98 559.79,514.69 561.25,515.36 562.71,516.01 564.18,516.64 565.64,517.23 567.11,517.81 568.57,518.36 570.03,518.9 571.5,519.41 572.96,519.91 574.43,520.39 575.89,520.85 577.36,521.3 578.82,521.74 580.28,522.16 581.75,522.57 583.21,522.97 584.68,523.35 586.14,523.73 587.6,524.09 589.07,524.45 590.53,524.79 592,525.13 593.46,525.46 594.92,525.78 596.39,526.09 597.85,526.4 599.32,526.69 600.78,526.98 602.25,527.27 603.71,527.54 605.17,527.81 606.64,528.08 608.1,528.34 609.57,528.59 611.03,528.84 612.49,529.08 613.96,529.31 615.42,529.55 616.89,529.77 618.35,530 619.81,530.21 621.28,530.43 622.74,530.63 624.21,530.84 625.67,531.04 627.13,531.23 628.6,531.43 630.06,531.62 631.53,531.8 632.99,531.98 634.46,532.16 635.92,532.33 637.38,532.5 638.85,532.67 640.31,532.83 641.78,533 643.24,533.15 644.7,533.31 646.17,533.46 647.63,533.61 649.1,533.76 650.56,533.9 652.02,534.04 653.49,534.18 654.95,534.31 656.42,534.44 657.88,534.57 659.34,534.7 660.81,534.83 662.27,534.95 663.74,535.07 665.2,535.19 666.66,535.3 668.13,535.41 669.59,535.53 671.06,535.63 672.52,535.74 673.99,535.84 675.45,535.95 676.91,536.05 678.38,536.14 679.84,536.24 681.31,536.33 682.77,536.42 684.23,536.51 685.7,536.6 687.16,536.69 688.63,536.77 690.09,536.85 691.55,536.93 693.02,537.01 694.48,537.09 695.95,537.16 697.41,537.24 698.88,537.31 700.34,537.38 701.8,537.44 703.27,537.51 704.73,537.57 706.2,537.64 707.66,537.7 709.12,537.75 710.59,537.81 712.05,537.87 713.52,537.92 714.98,537.97 716.44,538.02 717.91,538.07 719.37,538.12 720.84,538.17 722.3,538.21 723.76,538.25 725.23,538.29 726.69,538.33 728.16,538.37 729.62,538.41 731.09,538.44 732.55,538.48 734.01,538.51 735.48,538.54 736.94,538.57 738.41,538.59 739.87,538.62 741.33,538.64 742.8,538.67 744.26,538.69 745.73,538.71 747.19,538.73 748.65,538.74 750.12,538.76 751.58,538.77 753.05,538.78 754.51,538.8 755.97,538.8 757.44,538.81 758.9,538.82 760.37,538.82 761.83,538.83 763.3,538.83 764.76,538.83" fill="none" stroke="#1f77b4" stroke-width="2.083" stroke-linejoin="round" stroke-linecap="square"/>
<polyline points="471.94,519.16 473.41,518.77 474.87,519 476.33,518.32 477.8,517.4 479.26,516.49 480.73,515.58 482.19,515.81 483.65,515.58 485.12,514.67 486.58,511.59 488.05,511.02 489.51,511.16 490.97,510.79 492.44,512.5 493.9,508.97 495.37,506.69 496.83,500.08 498.29,514.67 499.76,513.76 501.22,507.6 502.69,502.36 504.15,495.97 505.62,499.62 507.08,503.61 508.54,492.1 510.01,478.87 511.47,479.56 512.94,482.06 514.4,482.52 515.86,486.85 517.33,473.17 518.79,451.74 520.26,435.55 521.72,451.28 523.18,453.11 524.65,451.28 526.11,446.72 527.58,440.57 529.04,459.26 530.5,482.52 531.97,496.88 533.43,491.87 534.9,498.25 536.36,509.42 537.83,492.32 539.29,486.62 540.75,510.79 542.22,526.52 543.68,509.42 545.15,504.41 546.61,503.95 548.07,506.46 549.54,497.57 551,503.95 552.47,500.99 553.93,502.58 555.39,504.41 556.86,505.78 558.32,507.26 559.79,508.51 561.25,510.79 562.71,511.48 564.18,513.07 565.64,513.98 567.11,514.55 568.57,515.12 570.03,515.58 571.5,516.04 572.96,515.81 574.43,516.72 575.89,517.18 577.36,517.63 578.82,518.32 580.28,519 581.75,519.57 583.21,520.14 584.68,520.71 586.14,521.28 587.6,521.85 589.07,522.42 590.53,522.88 592,523.33 593.46,523.79 594.92,524.24 596.39,524.59 597.85,524.93 599.32,525.27 600.78,525.61 602.25,525.95 603.71,526.3 605.17,526.75 606.64,527.21 608.1,527.73 609.57,528.58 611.03,529.62 612.49,531.08 613.96,532.91 615.42,535.19 616.89,537.7 618.35,540.2 619.81,542.26 621.28,543.69 622.74,544.08 624.21,543.85 625.67,542.19 627.13,539.43 628.6,536.56 630.06,533.36 631.53,530.63 632.99,528.62 634.46,527.37 635.92,526.48 637.38,525.98 638.85,525.73 640.31,525.61 641.78,525.73 643.24,526.07 644.7,526.87 646.17,527.98 647.63,529.62 649.1,531.49 650.56,534.05 652.02,536.78 653.49,539.93 654.95,542.8 656.42,545.33 657.88,546.95 659.34,547.5 660.81,546.59 662.27,544.31 663.74,541.57 665.2,538.61 666.66,536.28 668.13,534.64 669.59,533.36 671.06,532.63 672.52,532.22 673.99,532 675.45,531.88 676.91,531.88 678.38,532 679.84,532.13 681.31,532.33 682.77,532.52 684.23,532.71 685.7,532.91 687.16,533.09 688.63,533.27 690.09,533.36 691.55,533.46 693.02,533.55 694.48,533.64 695.95,533.72 697.41,533.8 698.88,533.89 700.34,533.99 701.8,534.09 703.27,534.19 704.73,534.29 706.2,534.39 707.66,534.49 709.12,534.59 710.59,534.69 712.05,534.79 713.52,534.89 714.98,534.98 716.44,535.06 717.91,535.14 719.37,535.14 720.84,535.14 722.3,535.09 723.76,535.03 725.23,534.9 726.69,534.78 728.16,534.64 729.62,534.5 731.09,534.5 732.55,534.78 734.01,535.28 735.48,536.03 736.94,537.15 738.41,538.68 739.87,540.55 741.33,542.8 742.8,545.33 744.26,547.84 745.73,550.01 747.19,551.24 748.65,551.24 750.12,549.1 751.58,545.9 753.05,542.48 754.51,539.06 755.97,536.28 757.44,534.39 758.9,533.14 760.37,532.38 761.83,531.88 763.3,531.63 764.76,531.49" fill="none" stroke="#ff7f0e" stroke-width="2.083" stroke-linejoin="round" stroke-linecap="square"/>
</g>
<path d="M472.5 559.5v5.4M545.5 559.5v5.4M618.5 559.5v5.4M692.5 559.5v5.4M765.5 559.5v5.4M457.5 530.5h-5.4M457.5 485.5h-5.4M457.5 439.5h-5.4" stroke="#000" stroke-width="1.111" fill="none"/>
<rect x="457.5" y="422.5" width="322" height="137" fill="none" stroke="#000" stroke-width="1.111" stroke-linejoin="miter"/>
<clipPath id="c30"><rect x="59.7" y="618.2" width="322.1" height="137.25"/></clipPath>
<g clip-path="url(#c30)">
<polyline points="74.34,687.4 75.07,665.31 75.81,649.82 76.54,645.57 77.28,653.84 78.01,672.14 78.74,695 79.48,715.6 80.21,727.75 80.95,727.84 81.68,715.84 82.41,695.33 83.15,672.44 83.88,654.03 84.62,645.6 85.35,649.68 86.08,665.03 86.82,687.07 87.55,709.22 88.28,724.83 89.02,729.25 89.75,721.16 90.49,702.97 91.22,680.12 91.95,659.45 92.69,647.14 93.42,646.87 94.16,658.72 94.89,679.15 95.62,702.05 96.36,720.57 97.09,729.16 97.83,725.27 98.56,710.05 99.29,688.05 100.03,665.86 100.76,650.12 101.49,645.52 102.23,653.45 102.96,671.53 103.7,694.36 104.43,715.11 105.16,727.57 105.9,728.01 106.63,716.31 107.37,695.97 108.1,673.06 108.83,654.44 109.57,645.67 110.3,649.39 111.03,664.48 111.77,686.42 112.5,708.65 113.24,724.53 113.97,729.3 114.7,721.54 115.44,703.57 116.17,680.76 116.91,659.94 117.64,647.33 118.37,646.7 119.11,658.25 119.84,678.52 120.58,701.44 121.31,720.16 122.04,729.09 122.78,725.54 123.51,710.59 124.24,688.71 124.98,666.43 125.71,650.42 126.45,645.48 127.18,653.07 127.91,670.93 128.65,693.72 129.38,714.61 130.12,727.37 130.85,728.18 131.58,716.78 132.32,696.6 133.05,673.67 133.79,654.84 134.52,645.75 135.25,649.12 135.99,663.93 136.72,685.77 137.45,708.09 138.19,724.22 138.92,729.34 139.66,721.92 140.39,704.17 141.12,681.41 141.86,660.44 142.59,647.53 143.33,646.55 144.06,657.78 144.79,677.88 145.53,700.82 146.26,719.75 147,729 147.73,725.81 148.46,711.14 149.2,689.36 149.93,667 150.66,650.74 151.4,645.44 152.13,652.7 152.87,670.33 153.6,693.07 154.33,714.11 155.07,727.17 155.8,728.33 156.54,717.25 157.27,697.24 158,674.29 158.74,655.26 159.47,645.84 160.2,648.86 160.94,663.4 161.67,685.12 162.41,707.52 163.14,723.9 163.87,729.37 164.61,722.29 165.34,704.77 166.08,682.05 166.81,660.94 167.54,647.74 168.28,646.4 169.01,657.32 169.75,677.24 170.48,700.2 171.21,719.33 171.95,728.91 172.68,726.07 173.41,711.67 174.15,690.01 174.88,667.57 175.62,651.06 176.35,645.42 177.08,652.33 177.82,669.74 178.55,692.42 179.29,713.61 180.02,726.95 180.75,728.47 181.49,717.7 182.22,697.87 182.96,674.91 183.69,655.68 184.42,645.94 185.16,648.6 185.89,662.86 186.62,684.46 187.36,706.94 188.09,723.58 188.83,729.39 189.56,722.65 190.29,705.36 191.03,682.7 191.76,661.45 192.5,647.96 193.23,646.26 193.96,656.87 194.7,676.61 195.43,699.58 196.17,718.9 196.9,728.8 197.63,726.32 198.37,712.2 199.1,690.66 199.83,668.15 200.57,651.39 201.3,645.4 202.04,651.98 202.77,669.15 203.5,691.77 204.24,713.09 204.97,726.73 205.71,728.6 206.44,718.15 207.17,698.5 207.91,675.54 208.64,656.12 209.37,646.05 210.11,648.36 210.84,662.34 211.58,683.81 212.31,706.36 213.04,723.24 213.78,729.4 214.51,723 215.25,705.95 215.98,683.35 216.71,661.97 217.45,648.19 218.18,646.14 218.92,656.43 219.65,675.98 220.38,698.95 221.12,718.46 221.85,728.69 222.58,726.56 223.32,712.73 224.05,691.31 224.79,668.73 225.52,651.73 226.25,645.4 226.99,651.63 227.72,668.56 228.46,691.12 229.19,712.57 229.92,726.49 230.66,728.72 231.39,718.59 232.13,699.13 232.86,676.16 233.59,656.56 234.33,646.17 235.06,648.12 235.79,661.81 236.53,683.16 237.26,705.78 238,722.9 238.73,729.4 239.46,723.34 240.2,706.53 240.93,684 241.67,662.49 242.4,648.43 243.13,646.02 243.87,655.99 244.6,675.35 245.33,698.32 246.07,718.02 246.8,728.56 247.54,726.79 248.27,713.24 249,691.96 249.74,669.32 250.47,652.08 251.21,645.41 251.94,651.29 252.67,667.98 253.41,690.47 254.14,712.05 254.88,726.25 255.61,728.83 256.34,719.03 257.08,699.76 257.81,676.8 258.54,657 259.28,646.3 260.01,647.89 260.75,661.3 261.48,682.51 262.21,705.19 262.95,722.54 263.68,729.39 264.42,723.67 265.15,707.11 265.88,684.65 266.62,663.02 267.35,648.67 268.09,645.91 268.82,655.56 269.55,674.73 270.29,697.69 271.02,717.57 271.75,728.43 272.49,727.02 273.22,713.76 273.96,692.61 274.69,669.91 275.42,652.44 276.16,645.42 276.89,650.96 277.63,667.4 278.36,689.82 279.09,711.52 279.83,726 280.56,728.94 281.3,719.45 282.03,700.38 282.76,677.43 283.5,657.46 284.23,646.44 284.96,647.68 285.7,660.79 286.43,681.86 287.17,704.59 287.9,722.18 288.63,729.36 289.37,724 290.1,707.69 290.84,685.31 291.57,663.55 292.3,648.93 293.04,645.82 293.77,655.14 294.5,674.11 295.24,697.05 295.97,717.11 296.71,728.28 297.44,727.23 298.17,714.26 298.91,693.26 299.64,670.51 300.38,652.8 301.11,645.45 301.84,650.64 302.58,666.83 303.31,689.17 304.05,710.98 304.78,725.74 305.51,729.03 306.25,719.87 306.98,701 307.71,678.06 308.45,657.92 309.18,646.59 309.92,647.47 310.65,660.29 311.38,681.22 312.12,704 312.85,721.81 313.59,729.33 314.32,724.31 315.05,708.26 315.79,685.96 316.52,664.09 317.26,649.2 317.99,645.73 318.72,654.72 319.46,673.49 320.19,696.42 320.92,716.65 321.66,728.13 322.39,727.43 323.13,714.76 323.86,693.91 324.59,671.11 325.33,653.18 326.06,645.49 326.8,650.33 327.53,666.26 328.26,688.51 329,710.43 329.73,725.46 330.47,729.11 331.2,720.28 331.93,701.62 332.67,678.7 333.4,658.39 334.13,646.75 334.87,647.27 335.6,659.79 336.34,680.57 337.07,703.39 337.8,721.43 338.54,729.29 339.27,724.62 340.01,708.82 340.74,686.61 341.47,664.64 342.21,649.47 342.94,645.65 343.67,654.32 344.41,672.88 345.14,695.78 345.88,716.18 346.61,727.97 347.34,727.62 348.08,715.25 348.81,694.55 349.55,671.71 350.28,653.56 351.01,645.53 351.75,650.03 352.48,665.7 353.22,687.86 353.95,709.89 354.68,725.18 355.42,729.18 356.15,720.68 356.88,702.23 357.62,679.34 358.35,658.86 359.09,646.92 359.82,647.08 360.55,659.3 361.29,679.93 362.02,702.79 362.76,721.04 363.49,729.24 364.22,724.92 364.96,709.38 365.69,687.26 366.43,665.19 367.16,649.76" fill="none" stroke="#1f77b4" stroke-width="2.083" stroke-linejoin="round" stroke-linecap="square"/>
<polyline points="74.34,710.25 75.07,713.73 75.81,717.22 76.54,713.09 77.28,701.81 78.01,686.39 78.74,670.98 79.48,659.69 80.21,655.56 80.95,660.77 81.68,674.99 82.41,694.41 83.15,713.84 83.88,728.06 84.62,733.26 85.35,723.51 86.08,697.97 86.82,666.41 87.55,640.87 88.28,631.12 89.02,638.65 89.75,659.23 90.49,687.34 91.22,715.45 91.95,736.02 92.69,743.55 93.42,733.19 94.16,706.04 94.89,672.49 95.62,645.35 96.36,634.98 97.09,641.69 97.83,660.03 98.56,685.07 99.29,710.11 100.03,728.44 100.76,735.15 101.49,729.01 102.23,712.21 102.96,689.27 103.7,666.33 104.43,649.53 105.16,643.38 105.9,649.09 106.63,664.68 107.37,685.97 108.1,707.27 108.83,722.85 109.57,728.56 110.3,720.88 111.03,700.76 111.77,675.89 112.5,655.77 113.24,648.09 113.97,655.05 114.7,673.28 115.44,695.81 116.17,714.04 116.91,721 117.64,716.81 118.37,705.36 119.11,689.71 119.84,674.06 120.58,662.61 121.31,658.42 122.04,661.7 122.78,670.67 123.51,682.93 124.24,695.18 124.98,704.15 125.71,707.43 126.45,706.44 127.18,703.57 127.91,699.09 128.65,693.45 129.38,687.19 130.12,680.93 130.85,675.29 131.58,670.81 132.32,667.94 133.05,666.95 133.79,669.27 134.52,675.78 135.25,685.18 135.99,695.62 136.72,705.03 137.45,711.54 138.19,713.86 138.92,708.2 139.66,693.4 140.39,675.1 141.12,660.3 141.86,654.64 142.59,659.22 143.33,671.72 144.06,688.81 144.79,705.89 145.53,718.4 146.26,722.97 147,715.65 147.73,696.46 148.46,672.75 149.2,653.57 149.93,646.24 150.66,652.01 151.4,667.76 152.13,689.29 152.87,710.81 153.6,726.57 154.33,732.34 155.07,723.04 155.8,698.68 156.54,668.56 157.27,644.2 158,634.9 158.74,642.19 159.47,662.1 160.2,689.29 160.94,716.49 161.67,736.39 162.41,743.68 163.14,732.3 163.87,702.51 164.61,665.69 165.34,635.9 166.08,624.53 166.81,632.54 167.54,654.42 168.28,684.31 169.01,714.21 169.75,736.09 170.48,744.1 171.21,736.98 171.95,717.53 172.68,690.97 173.41,664.4 174.15,644.96 174.88,637.84 175.62,646.78 176.35,670.17 177.08,699.09 177.82,722.48 178.55,731.42 179.29,725.77 180.02,710.35 180.75,689.29 181.49,668.23 182.22,652.81 182.96,647.16 183.69,652.11 184.42,665.62 185.16,684.08 185.89,702.54 186.62,716.05 187.36,721 188.09,716.64 188.83,704.74 189.56,688.47 190.29,672.21 191.03,660.3 191.76,655.94 192.5,661.27 193.23,675.23 193.96,692.48 194.7,706.43 195.43,711.76 196.17,708.04 196.9,698.29 197.63,686.25 198.37,676.51 199.1,672.78 199.83,675.2 200.57,681.04 201.3,686.87 202.04,689.29 202.77,687.37 203.5,682.74 204.24,678.11 204.97,676.19 205.71,679.49 206.44,688.14 207.17,698.84 207.91,707.49 208.64,710.79 209.37,707.09 210.11,696.99 210.84,683.18 211.58,669.37 212.31,659.26 213.04,655.56 213.78,662 214.51,678.85 215.25,699.68 215.98,716.54 216.71,722.97 217.45,717.93 218.18,704.16 218.92,685.34 219.65,666.53 220.38,652.75 221.12,647.71 221.85,653.19 222.58,668.16 223.32,688.62 224.05,709.07 224.79,724.05 225.52,729.53 226.25,720.77 226.99,697.85 227.72,669.52 228.46,646.6 229.19,637.84 229.92,644.75 230.66,663.64 231.39,689.44 232.13,715.24 232.86,734.12 233.59,741.03 234.33,729.9 235.06,700.74 235.79,664.7 236.53,635.54 237.26,624.4 238,632.72 238.73,655.44 239.46,686.48 240.2,717.51 240.93,740.24 241.67,748.55 242.4,737.3 243.13,707.85 243.87,671.44 244.6,641.99 245.33,630.74 246.07,637.67 246.8,656.61 247.54,682.49 248.27,708.36 249,727.3 249.74,734.23 250.47,728.08 251.21,711.29 251.94,688.35 252.67,665.4 253.41,648.61 254.14,642.46 254.88,650.42 255.61,671.25 256.34,697 257.08,717.83 257.81,725.79 258.54,720.83 259.28,707.3 260.01,688.81 260.75,670.32 261.48,656.78 262.21,651.83 262.95,656.22 263.68,668.21 264.42,684.59 265.15,700.97 265.88,712.96 266.62,717.35 267.35,712.78 268.09,700.82 268.82,686.04 269.55,674.08 270.29,669.51 271.02,671.34 271.75,676.12 272.49,682.04 273.22,686.83 273.96,688.66 274.69,689.29 275.42,689.92 276.16,692.5 276.89,698.74 277.63,704.98 278.36,707.56 279.09,703.96 279.83,694.12 280.56,680.68 281.3,667.24 282.03,657.4 282.76,653.8 283.5,660.73 284.23,678.86 284.96,701.27 285.7,719.41 286.43,726.33 287.17,720.94 287.9,706.21 288.63,686.08 289.37,665.95 290.1,651.21 290.84,645.82 291.57,651.39 292.3,666.61 293.04,687.4 293.77,708.19 294.5,723.41 295.24,728.98 295.97,720.72 296.71,699.09 297.44,672.35 298.17,650.72 298.91,642.46 299.64,648.29 300.38,664.23 301.11,685.99 301.84,707.76 302.58,723.69 303.31,729.53 304.05,723.99 304.78,708.86 305.51,688.2 306.25,667.53 306.98,652.41 307.71,646.87 308.45,651.47 309.18,664.03 309.92,681.18 310.65,698.34 311.38,710.9 312.12,715.5 312.85,713.28 313.59,706.95 314.32,697.49 315.05,686.33 315.79,675.17 316.52,665.7 317.26,659.38 317.99,657.16 318.72,661.13 319.46,671.96 320.19,686.77 320.92,701.57 321.66,712.41 322.39,716.38 323.13,713.18 323.86,704.23 324.59,691.29 325.33,676.92 326.06,663.98 326.8,655.02 327.53,651.83 328.26,658.79 329,677.03 329.73,699.58 330.47,717.81 331.2,724.78 331.93,719.37 332.67,704.58 333.4,684.38 334.13,664.17 334.87,649.39 335.6,643.97 336.34,652.55 337.07,675.02 337.8,702.8 338.54,725.27 339.27,733.85 340.01,727.45 340.74,709.95 341.47,686.06 342.21,662.16 342.94,644.66 343.67,638.26 344.41,647.77 345.14,672.65 345.88,703.41 346.61,728.29 347.34,737.8 348.08,730.92 348.81,712.12 349.55,686.43 350.28,660.75 351.01,641.95 351.75,635.07 352.48,641.91 353.22,660.59 353.95,686.12 354.68,711.64 355.42,730.33 356.15,737.17 356.88,727.77 357.62,703.14 358.35,672.71 359.09,648.08 359.82,638.68 360.55,644.89 361.29,661.84 362.02,685.01 362.76,708.17 363.49,725.13 364.22,731.33 364.96,722.81 365.69,702.23 366.43,681.64 367.16,673.12" fill="none" stroke="#ff7f0e" stroke-width="2.083" stroke-linejoin="round" stroke-linecap="square"/>
</g>
<path d="M74.5 755.5v5.4M148.5 755.5v5.4M221.5 755.5v5.4M295.5 755.5v5.4M368.5 755.5v5.4M60.5 729.5h-5.4M60.5 687.5h-5.4M60.5 645.5h-5.4" stroke="#000" stroke-width="1.111" fill="none"/>
<rect x="60.5" y="618.5" width="322" height="137" fill="none" stroke="#000" stroke-width="1.111" stroke-linejoin="miter"/>
<clipPath id="c31"><rect x="457.3" y="618.2" width="322.1" height="137.25"/></clipPath>
<g clip-path="url(#c31)">
<polyline points="471.94,721.1 473.41,721.07 474.87,720.96 476.33,720.78 477.8,720.53 479.26,720.22 480.73,719.83 482.19,719.38 483.65,718.86 485.12,718.28 486.58,717.64 488.05,716.93 489.51,716.15 490.97,715.32 492.44,714.42 493.9,713.45 495.37,712.42 496.83,711.31 498.29,710.13 499.76,708.87 501.22,707.53 502.69,706.09 504.15,704.54 505.62,702.87 507.08,701.06 508.54,699.09 510.01,696.92 511.47,694.52 512.94,691.82 514.4,688.73 515.86,685.13 517.33,680.79 518.79,675.32 520.26,667.88 521.72,656.11 523.18,624.75 524.65,645 526.11,662.03 527.58,670.99 529.04,677.08 530.5,681.69 531.97,685.39 533.43,688.47 534.9,691.11 536.36,693.41 537.83,695.45 539.29,697.28 540.75,698.94 542.22,700.45 543.68,701.84 545.15,703.13 546.61,704.32 548.07,705.44 549.54,706.48 551,707.46 552.47,708.39 553.93,709.26 555.39,710.09 556.86,710.88 558.32,711.63 559.79,712.35 561.25,713.03 562.71,713.69 564.18,714.32 565.64,714.92 567.11,715.5 568.57,716.06 570.03,716.6 571.5,717.11 572.96,717.62 574.43,718.1 575.89,718.57 577.36,719.02 578.82,719.46 580.28,719.89 581.75,720.3 583.21,720.7 584.68,721.09 586.14,721.47 587.6,721.84 589.07,722.2 590.53,722.55 592,722.89 593.46,723.22 594.92,723.54 596.39,723.85 597.85,724.16 599.32,724.46 600.78,724.75 602.25,725.04 603.71,725.32 605.17,725.59 606.64,725.86 608.1,726.12 609.57,726.37 611.03,726.62 612.49,726.87 613.96,727.11 615.42,727.34 616.89,727.57 618.35,727.79 619.81,728.01 621.28,728.23 622.74,728.44 624.21,728.64 625.67,728.84 627.13,729.04 628.6,729.24 630.06,729.43 631.53,729.61 632.99,729.79 634.46,729.97 635.92,730.15 637.38,730.32 638.85,730.49 640.31,730.66 641.78,730.82 643.24,730.98 644.7,731.13 646.17,731.29 647.63,731.44 649.1,731.58 650.56,731.73 652.02,731.87 653.49,732.01 654.95,732.15 656.42,732.28 657.88,732.41 659.34,732.54 660.81,732.66 662.27,732.79 663.74,732.91 665.2,733.03 666.66,733.14 668.13,733.26 669.59,733.37 671.06,733.48 672.52,733.59 673.99,733.69 675.45,733.79 676.91,733.9 678.38,733.99 679.84,734.09 681.31,734.19 682.77,734.28 684.23,734.37 685.7,734.46 687.16,734.54 688.63,734.63 690.09,734.71 691.55,734.79 693.02,734.87 694.48,734.95 695.95,735.02 697.41,735.1 698.88,735.17 700.34,735.24 701.8,735.3 703.27,735.37 704.73,735.44 706.2,735.5 707.66,735.56 709.12,735.62 710.59,735.68 712.05,735.73 713.52,735.79 714.98,735.84 716.44,735.89 717.91,735.94 719.37,735.99 720.84,736.03 722.3,736.08 723.76,736.12 725.23,736.16 726.69,736.2 728.16,736.24 729.62,736.28 731.09,736.31 732.55,736.35 734.01,736.38 735.48,736.41 736.94,736.44 738.41,736.47 739.87,736.49 741.33,736.52 742.8,736.54 744.26,736.56 745.73,736.58 747.19,736.6 748.65,736.62 750.12,736.63 751.58,736.65 753.05,736.66 754.51,736.67 755.97,736.68 757.44,736.69 758.9,736.69 760.37,736.7 761.83,736.7 763.3,736.7 764.76,736.7" fill="none" stroke="#1f77b4" stroke-width="2.083" stroke-linejoin="round" stroke-linecap="square"/>
<polyline points="471.94,716.75 473.41,716.31 474.87,716.75 476.33,715.87 477.8,714.86 479.26,713.94 480.73,713.02 482.19,713.02 483.65,712.33 485.12,711.64 486.58,708.88 488.05,708.65 489.51,708.65 490.97,708.88 492.44,709.8 493.9,707.5 495.37,704.28 496.83,697.61 498.29,712.33 499.76,712.79 501.22,706.12 502.69,699.91 504.15,694.62 505.62,696.81 507.08,696.35 508.54,688.41 510.01,676.45 511.47,676.22 512.94,679.67 514.4,682.2 515.86,683.12 517.33,673.23 518.79,650.46 520.26,632.52 521.72,647.93 523.18,646.67 524.65,644.71 526.11,641.03 527.58,639.65 529.04,658.05 530.5,678.98 531.97,688.18 533.43,693.93 534.9,701.06 536.36,708.65 537.83,690.94 539.29,684.96 540.75,712.56 542.22,738.44 543.68,708.65 545.15,702.33 546.61,700.83 548.07,704.6 549.54,694.97 551,704.28 552.47,699.8 553.93,700.67 555.39,702.9 556.86,704.6 558.32,706.12 559.79,707.38 561.25,709.66 562.71,709.34 564.18,711.41 565.64,712.47 567.11,713.25 568.57,713.94 570.03,714.63 571.5,715.37 572.96,715.25 574.43,716.01 575.89,716.64 577.36,717.28 578.82,718.02 580.28,718.77 581.75,719.54 583.21,720.31 584.68,721.01 586.14,721.71 587.6,722.43 589.07,723.14 590.53,723.76 592,724.38 593.46,724.95 594.92,725.51 596.39,726.08 597.85,726.66 599.32,727.17 600.78,727.67 602.25,728.17 603.71,728.66 605.17,729.12 606.64,729.95 608.1,730.27 609.57,731.65 611.03,732.64 612.49,733.84 613.96,735.33 615.42,736.94 616.89,738.55 618.35,739.88 619.81,740.97 621.28,741.47 622.74,741.61 624.21,740.97 625.67,739.33 627.13,737.17 628.6,734.64 630.06,732.11 631.53,729.81 632.99,728.04 634.46,726.77 635.92,725.9 637.38,725.39 638.85,725.14 640.31,725 641.78,725.14 643.24,725.51 644.7,726.27 646.17,727.42 647.63,728.94 649.1,730.85 650.56,733.12 652.02,735.54 653.49,738.18 654.95,740.62 656.42,742.62 657.88,744.14 659.34,744.99 660.81,745.15 662.27,744.14 663.74,742.23 665.2,740.09 666.66,737.81 668.13,735.91 669.59,734.41 671.06,733.38 672.52,732.73 673.99,732.34 675.45,732.11 676.91,731.97 678.38,731.86 679.84,731.86 681.31,731.91 682.77,731.97 684.23,732.1 685.7,732.23 687.16,732.35 688.63,732.48 690.09,732.6 691.55,732.73 693.02,732.8 694.48,732.87 695.95,732.97 697.41,733.07 698.88,733.17 700.34,733.28 701.8,733.4 703.27,733.51 704.73,733.63 706.2,733.74 707.66,733.84 709.12,733.95 710.59,734.05 712.05,734.15 713.52,734.25 714.98,734.35 716.44,734.45 717.91,734.55 719.37,734.65 720.84,734.75 722.3,734.87 723.76,734.99 725.23,735.1 726.69,735.33 728.16,735.56 729.62,735.91 731.09,736.41 732.55,737.17 734.01,738.18 735.48,739.47 736.94,740.97 738.41,742.62 739.87,744.39 741.33,746.05 742.8,747.29 744.26,748.21 745.73,748.72 747.19,748.58 748.65,747.29 750.12,745.15 751.58,742.46 753.05,739.7 754.51,737.17 755.97,735.01 757.44,733.38 758.9,732.34 760.37,731.72 761.83,731.35 763.3,731.1 764.76,730.96" fill="none" stroke="#ff7f0e" stroke-width="2.083" stroke-linejoin="round" stroke-linecap="square"/>
</g>
<path d="M472.5 755.5v5.4M545.5 755.5v5.4M618.5 755.5v5.4M692.5 755.5v5.4M765.5 755.5v5.4M457.5 728.5h-5.4M457.5 682.5h-5.4M457.5 636.5h-5.4" stroke="#000" stroke-width="1.111" fill="none"/>
<rect x="457.5" y="618.5" width="322" height="137" fill="none" stroke="#000" stroke-width="1.111" stroke-linejoin="miter"/>
<rect x="622.46" y="36.24" width="150.9" height="46.06" rx="2.78" fill="#fff" fill-opacity="0.8" stroke="#ccc" stroke-opacity="0.8" stroke-width="1.389"/>
<path d="M628.01 47.94H655.79" stroke="#1f77b4" stroke-width="2.083" stroke-linecap="square"/>
<path d="M628.01 68.88H655.79" stroke="#ff7f0e" stroke-width="2.083" stroke-linecap="square"/>
<g font-family="'DejaVu Sans', 'Liberation Sans', sans-serif" fill="#000" style="opacity:.999">
<text x="221.5" y="21.87" font-size="16.75" text-anchor="middle">Time-signal at Iteration 0</text>
<text transform="translate(20.32 100.73) rotate(-90)" font-size="13.89" text-anchor="middle">Amplitude</text>
<text x="75.04" y="188.27" font-size="13.89" text-anchor="middle">0</text>
<text x="148.43" y="188.27" font-size="13.89" text-anchor="middle">100</text>
<text x="221.82" y="188.27" font-size="13.89" text-anchor="middle">200</text>
<text x="295.2" y="188.27" font-size="13.89" text-anchor="middle">300</text>
<text x="368.59" y="188.27" font-size="13.89" text-anchor="middle">400</text>
<text x="50.48" y="162.2" font-size="13.89" text-anchor="end">−1</text>
<text x="50.48" y="103.2" font-size="13.89" text-anchor="end">0</text>
<text x="50.48" y="44.2" font-size="13.89" text-anchor="end">1</text>
<text x="619.1" y="21.87" font-size="16.75" text-anchor="middle">Spectrum at Iteration 0</text>
<text transform="translate(409.3 100.73) rotate(-90)" font-size="13.89" text-anchor="middle">Magnitude (dB)</text>
<text x="472.64" y="188.27" font-size="13.89" text-anchor="middle">0</text>
<text x="545.85" y="188.27" font-size="13.89" text-anchor="middle">50</text>
<text x="619.05" y="188.27" font-size="13.89" text-anchor="middle">100</text>
<text x="692.25" y="188.27" font-size="13.89" text-anchor="middle">150</text>
<text x="765.46" y="188.27" font-size="13.89" text-anchor="middle">200</text>
<text x="448.08" y="156.7" font-size="13.89" text-anchor="end">−25</text>
<text x="448.08" y="115.7" font-size="13.89" text-anchor="end">0</text>
<text x="448.08" y="74.7" font-size="13.89" text-anchor="end">25</text>
<text x="221.5" y="218.17" font-size="16.75" text-anchor="middle">Time-signal at Iteration 5</text>
<text transform="translate(20.32 297.03) rotate(-90)" font-size="13.89" text-anchor="middle">Amplitude</text>
<text x="75.04" y="384.57" font-size="13.89" text-anchor="middle">0</text>
<text x="148.43" y="384.57" font-size="13.89" text-anchor="middle">100</text>
<text x="221.82" y="384.57" font-size="13.89" text-anchor="middle">200</text>
<text x="295.2" y="384.57" font-size="13.89" text-anchor="middle">300</text>
<text x="368.59" y="384.57" font-size="13.89" text-anchor="middle">400</text>
<text x="50.48" y="343.4" font-size="13.89" text-anchor="end">−1</text>
<text x="50.48" y="301.9" font-size="13.89" text-anchor="end">0</text>
<text x="50.48" y="260.4" font-size="13.89" text-anchor="end">1</text>
<text x="619.1" y="218.17" font-size="16.75" text-anchor="middle">Spectrum at Iteration 5</text>
<text transform="translate(419.52 296.53) rotate(-90)" font-size="13.89" text-anchor="middle">Magnitude (dB)</text>
<text x="472.64" y="384.57" font-size="13.89" text-anchor="middle">0</text>
<text x="545.85" y="384.57" font-size="13.89" text-anchor="middle">50</text>
<text x="619.05" y="384.57" font-size="13.89" text-anchor="middle">100</text>
<text x="692.25" y="384.57" font-size="13.89" text-anchor="middle">150</text>
<text x="765.46" y="384.57" font-size="13.89" text-anchor="middle">200</text>
<text x="448.08" y="334.8" font-size="13.89" text-anchor="end">0</text>
<text x="448.08" y="291.8" font-size="13.89" text-anchor="end">20</text>
<text x="448.08" y="248.8" font-size="13.89" text-anchor="end">40</text>
<text x="221.5" y="414.47" font-size="16.75" text-anchor="middle">Time-signal at Iteration 10</text>
<text transform="translate(20.32 493.33) rotate(-90)" font-size="13.89" text-anchor="middle">Amplitude</text>
<text x="75.04" y="580.87" font-size="13.89" text-anchor="middle">0</text>
<text x="148.43" y="580.87" font-size="13.89" text-anchor="middle">100</text>
<text x="221.82" y="580.87" font-size="13.89" text-anchor="middle">200</text>
<text x="295.2" y="580.87" font-size="13.89" text-anchor="middle">300</text>
<text x="368.59" y="580.87" font-size="13.89" text-anchor="middle">400</text>
<text x="50.48" y="539.2" font-size="13.89" text-anchor="end">−1</text>
<text x="50.48" y="497.2" font-size="13.89" text-anchor="end">0</text>
<text x="50.48" y="455.2" font-size="13.89" text-anchor="end">1</text>
<text x="619.1" y="414.47" font-size="16.75" text-anchor="middle">Spectrum at Iteration 10</text>
<text transform="translate(419.52 492.83) rotate(-90)" font-size="13.89" text-anchor="middle">Magnitude (dB)</text>
<text x="472.64" y="580.87" font-size="13.89" text-anchor="middle">0</text>
<text x="545.85" y="580.87" font-size="13.89" text-anchor="middle">50</text>
<text x="619.05" y="580.87" font-size="13.89" text-anchor="middle">100</text>
<text x="692.25" y="580.87" font-size="13.89" text-anchor="middle">150</text>
<text x="765.46" y="580.87" font-size="13.89" text-anchor="middle">200</text>
<text x="448.08" y="536.9" font-size="13.89" text-anchor="end">0</text>
<text x="448.08" y="491.3" font-size="13.89" text-anchor="end">20</text>
<text x="448.08" y="445.7" font-size="13.89" text-anchor="end">40</text>
<text x="221.5" y="610.77" font-size="16.75" text-anchor="middle">Time-signal at Iteration 15</text>
<text transform="translate(20.32 689.62) rotate(-90)" font-size="13.89" text-anchor="middle">Amplitude</text>
<text x="75.04" y="777.17" font-size="13.89" text-anchor="middle">0</text>
<text x="148.43" y="777.17" font-size="13.89" text-anchor="middle">100</text>
<text x="221.82" y="777.17" font-size="13.89" text-anchor="middle">200</text>
<text x="295.2" y="777.17" font-size="13.89" text-anchor="middle">300</text>
<text x="368.59" y="777.17" font-size="13.89" text-anchor="middle">400</text>
<text x="50.48" y="735.4" font-size="13.89" text-anchor="end">−1</text>
<text x="50.48" y="693.4" font-size="13.89" text-anchor="end">0</text>
<text x="50.48" y="651.4" font-size="13.89" text-anchor="end">1</text>
<text x="619.1" y="610.77" font-size="16.75" text-anchor="middle">Spectrum at Iteration 15</text>
<text transform="translate(419.52 689.12) rotate(-90)" font-size="13.89" text-anchor="middle">Magnitude (dB)</text>
<text x="472.64" y="777.17" font-size="13.89" text-anchor="middle">0</text>
<text x="545.85" y="777.17" font-size="13.89" text-anchor="middle">50</text>
<text x="619.05" y="777.17" font-size="13.89" text-anchor="middle">100</text>
<text x="692.25" y="777.17" font-size="13.89" text-anchor="middle">150</text>
<text x="765.46" y="777.17" font-size="13.89" text-anchor="middle">200</text>
<text x="448.08" y="734.7" font-size="13.89" text-anchor="end">0</text>
<text x="448.08" y="688.7" font-size="13.89" text-anchor="end">20</text>
<text x="448.08" y="642.7" font-size="13.89" text-anchor="end">40</text>
<text x="667.8" y="53.8" font-size="13.68">Original</text>
<text x="667.8" y="74.74" font-size="13.68">Reconstructed</text>
</g>
</svg>
</body></html>
